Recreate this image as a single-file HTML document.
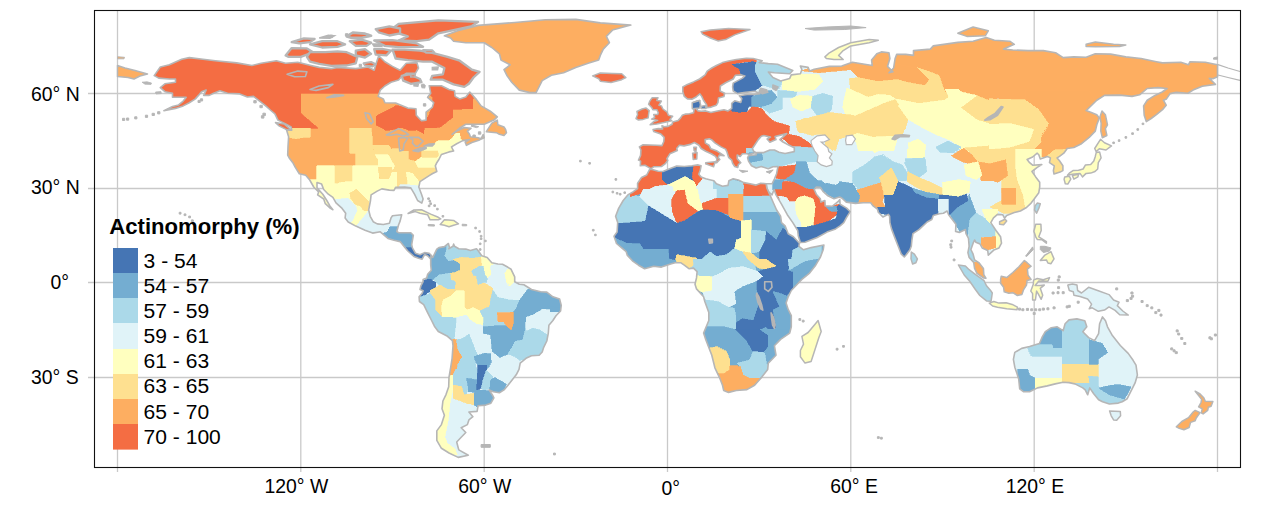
<!DOCTYPE html>
<html><head><meta charset="utf-8"><title>Actinomorphy map</title>
<style>
html,body{margin:0;padding:0;background:#fff;}
body{width:1269px;height:507px;overflow:hidden;font-family:"Liberation Sans",Arial,sans-serif;}
svg{display:block}
text{font-family:"Liberation Sans",Arial,sans-serif;fill:#000}
.ax{font-size:19.4px}
.lg{font-size:19.4px}
.ttl{font-size:22.1px;font-weight:bold}
</style></head><body>
<svg width="1269" height="507" viewBox="0 0 1269 507">
<rect x="0" y="0" width="1269" height="507" fill="#fff"/>

<g stroke="#c9c9c9" stroke-width="1.3" fill="none">
<line x1="117.5" y1="11" x2="117.5" y2="472"/>
<line x1="300.8" y1="11" x2="300.8" y2="472"/>
<line x1="484.2" y1="11" x2="484.2" y2="472"/>
<line x1="667.5" y1="11" x2="667.5" y2="472"/>
<line x1="850.8" y1="11" x2="850.8" y2="472"/>
<line x1="1034.2" y1="11" x2="1034.2" y2="472"/>
<line x1="1217.5" y1="11" x2="1217.5" y2="472"/>
<line x1="88" y1="93.5" x2="1240" y2="93.5"/>
<line x1="88" y1="188.5" x2="1240" y2="188.5"/>
<line x1="88" y1="282.5" x2="1240" y2="282.5"/>
<line x1="88" y1="377.5" x2="1240" y2="377.5"/>
</g>
<defs><clipPath id="c1"><path d="M154.2,75.6 L160.3,67 L169.4,64.8 L181.7,59.2 L189.3,57.6 L203,59.2 L215.3,60.7 L236.7,62.9 L251.9,65.5 L261.1,63.3 L276.4,60.7 L285.6,63.3 L297.8,62.3 L310,65.2 L319.2,67.4 L331.4,68.6 L337.5,67.4 L355.8,68.6 L368.1,67 L374.2,70.2 L375.7,64.8 L378.7,55.7 L384.9,61.7 L392.5,66.4 L400.1,70.2 L406.2,63.3 L416.9,62.6 L418.5,68 L415.4,73.4 L406.2,73.4 L401.7,76.5 L398.6,80 L391,82.2 L384.9,86 L380.3,90.1 L378.1,96.4 L383.3,98.9 L384.9,102.7 L395.6,103 L407.8,108.1 L416,108.7 L416.3,115.3 L421.5,120.7 L426.1,120.1 L426.1,112.2 L432.2,107.4 L433.7,102.7 L427.6,97.3 L430.7,93.2 L429.2,85.7 L441.4,85.7 L449,89.5 L454.5,90.7 L455.1,96.4 L459.7,98.9 L465.8,97 L469.8,92 L476.5,99.6 L481.1,105.9 L490.3,111.2 L497.3,116.9 L493.9,120.1 L484.2,124.2 L465.8,124.2 L459.7,128 L452.1,134.3 L456.7,131.1 L464.3,127.6 L471,128.3 L467.4,131.1 L469.5,134.3 L470.4,136.8 L478.1,137.7 L481.1,138.7 L483.2,134.6 L484.2,137.7 L479.6,139.9 L471.9,142.5 L466.4,145.3 L465.2,142.2 L469.5,139.6 L462.8,140.6 L456.7,143.7 L451.5,146.9 L453,150 L453.6,151 L449,151.9 L441.4,154.5 L438.9,159.5 L436.8,162.7 L435.3,165.8 L436.8,171.5 L432.2,173.7 L429.2,175.6 L420,181.6 L418.8,187 L421.5,194.2 L423.1,199 L421.8,203.1 L417.6,200.5 L414.5,194.2 L410.8,187.9 L404.7,187 L395.6,187.3 L394,190.4 L389.4,190.1 L381.8,188.9 L377.2,191.1 L371.1,194.9 L370.5,200.5 L368.7,210 L370.2,216.3 L373.2,221.7 L377.2,223.9 L383.3,224.5 L389.4,223.3 L391,217.9 L392.5,215.7 L401.7,214.7 L400.1,221.1 L398.6,224.8 L396.8,231.5 L398.6,232.7 L410.8,232.7 L413.3,235.3 L411.7,244.7 L412.4,247.9 L415.4,253.2 L420,254.8 L424.6,252.6 L429.2,253.2 L431.3,255.5 L430.7,258.9 L427.6,255.8 L424.6,254.5 L422.1,259.2 L418.5,258.3 L413.9,256.4 L407.8,251 L405.3,247.9 L400.1,241.6 L394,240.3 L387.9,238.4 L380.3,231.8 L372.6,233.1 L365,230.2 L355.8,226.1 L348.2,222 L345.1,217.9 L345.7,213.2 L342.1,208.4 L336,202.8 L332.9,197.4 L328.3,194.2 L323.7,189.5 L321.6,184.1 L317,182.6 L317,187.9 L322.8,194.2 L326.8,200.5 L329.9,205.9 L332.9,209.7 L330.5,208.4 L325.3,203.7 L323.7,199 L317.6,194.9 L318.6,192 L313.7,187 L309.7,180 L305.7,175.3 L299.3,173.7 L295.3,167.4 L293.2,163.3 L289.2,157.9 L287.7,155.1 L288,146.9 L288.6,136.8 L286.5,129.8 L291.7,130.2 L291.1,127 L285.6,123.9 L277.9,120.1 L274.9,113.8 L270.3,110 L265.7,105.9 L259.6,101.1 L253.5,96.4 L247.4,97 L239.7,93.9 L227.5,93.2 L219.9,90.7 L213.7,93.2 L209.2,95.4 L203.7,95.4 L206.1,90.1 L201.5,91.7 L198.5,95.4 L195.4,98.9 L189.3,102.7 L183.2,105.9 L175.5,108.4 L163.9,110.6 L172.5,106.5 L178.6,104.9 L183.2,101.1 L186.2,97.3 L181.7,97.3 L172.5,97.3 L172.5,93.2 L164.9,91.7 L160.3,87.6 L164.9,83.8 L175.5,82.2 L175.5,79 L169.4,79 L158.7,78.1Z"/></clipPath><clipPath id="c2"><path d="M444.4,35.8 L459.7,30.1 L478.1,25.4 L514.7,22.5 L545.3,19.7 L575.8,19.4 L600.3,22.9 L630.8,25.1 L612.5,30.1 L606.4,36.4 L609.4,42.7 L603.3,49.1 L600.3,55.4 L598.7,60.1 L588.1,63.3 L575.8,67.4 L563.6,72.7 L551.4,75.3 L542.2,80.6 L536.1,92.6 L530,92.6 L519.3,90.1 L511.7,82.2 L507.1,75.9 L504,69.6 L510.1,64.8 L501,60.1 L499.4,53.8 L491.8,47.5 L484.2,42.7 L465.8,42.7 L453.6,41.2 L450.6,38Z"/></clipPath><clipPath id="c3"><path d="M431.3,255.5 L432.8,257.4 L436.8,249.1 L438.9,247.6 L444.4,246.6 L448.4,243.5 L449.6,247.9 L448.7,248.8 L453,246.3 L453.6,244.1 L454.5,246.3 L458.8,248.8 L465.8,249.1 L470.4,250.4 L476.5,248.8 L478.4,251 L481.7,255.8 L487.2,257.4 L491.8,262.7 L497.9,264 L502.5,264.3 L507.1,266.8 L511.1,269.3 L514.7,276.9 L514.7,281.7 L519.3,284.2 L523.9,284.8 L531.5,289.5 L534.6,290.2 L540.7,291.8 L546.8,292.1 L552.9,296.8 L559.6,299 L561.2,305.3 L560.6,311 L556,315.7 L552.9,320.5 L548.9,325.2 L548.3,333.1 L546.8,341 L543.7,347.3 L542.2,352 L539.2,355.2 L531.5,355.8 L526,358.3 L520.2,363.1 L519,369.4 L516.2,374.8 L511.7,380.4 L508,385.2 L504,389.9 L499.4,392.7 L493.3,391.8 L489.1,389.9 L492.4,395 L493.9,397.8 L490.9,403.2 L485.7,405.1 L478.1,405.7 L477.1,411.4 L468.9,412 L472.9,416.7 L468.9,419.9 L467.4,424.6 L461.2,427.8 L465.8,432.5 L461.2,437.2 L456.7,442 L458.2,447.7 L458.8,449.9 L468.3,455.2 L458.2,457.4 L449,453 L441.4,448.3 L436.8,440.4 L436.8,430.9 L441.4,424.6 L444.4,415.2 L442,408.8 L442.9,401 L446,394.6 L448.7,386.7 L449,377.3 L450.6,367.8 L452.1,358.3 L453,345.7 L452.4,340.7 L447.5,336.3 L438.3,331.5 L434.4,326.2 L431.6,320.5 L427.6,312.6 L423.7,304.7 L419.4,301.5 L419.1,296.8 L422.1,293.3 L423.1,290.8 L420,289.5 L420.9,285.8 L423.1,281.7 L423.1,279.4 L426.7,277.9 L427.6,274.4 L431.3,270.3 L430.7,264.9 L430.7,258.9Z"/></clipPath><clipPath id="c4"><path d="M746.3,58.2 L753.1,58.5 L762.2,60.7 L759.2,62.6 L768.3,63.6 L777.5,64.2 L792.8,70.5 L789.7,73.7 L774.4,72.7 L768.3,72.1 L772.9,77.5 L780.6,80.9 L789.7,78.4 L791.3,74.9 L800.4,73.7 L801.9,69.6 L800.4,66.1 L808.1,67.4 L809.6,71.1 L814.2,69.3 L829.4,66.4 L841.7,66.1 L852.4,62.3 L864.6,64.2 L872.2,65.5 L871.6,60.1 L876.8,53.8 L881.4,51.9 L889,52.8 L889.9,58.5 L887.5,66.4 L893,71.8 L889,72.7 L893.6,68 L895.1,58.5 L896.7,54.4 L905.8,54.4 L913.5,55.4 L913.5,50.6 L930.3,49.1 L933.3,45.9 L957.8,42.4 L973.1,41.2 L986.2,37.4 L994.4,40.2 L1009.7,41.2 L1014.3,44.3 L1003.6,49.1 L1012.8,50 L1028.1,50.6 L1043.3,50.6 L1055.6,52.8 L1063.2,57.6 L1073.9,56.9 L1086.1,57.3 L1095.3,53.8 L1110.6,54.1 L1125.8,56.9 L1141.1,58.5 L1156.4,61.7 L1162.5,62.9 L1180.8,62.3 L1188.5,64.8 L1190,61.7 L1205.3,62.3 L1217.5,64.8 L1217.5,76.8 L1212.9,78.7 L1209.3,78.4 L1215.4,84.4 L1202.2,86.3 L1193.1,90.1 L1187.9,93.2 L1176.3,92.3 L1170.1,93.6 L1166.5,98.9 L1163.4,100.2 L1166.2,105.2 L1162.5,109.7 L1156.4,114.7 L1151.2,118.5 L1146.3,121.6 L1144.2,115.3 L1143.6,105.9 L1147.2,100.2 L1154.9,95.4 L1162.2,92 L1167.1,88.5 L1157.9,87.6 L1147.2,88.5 L1139.6,94.8 L1132,96.4 L1119.7,95.1 L1104.5,95.4 L1096.8,100.2 L1086.1,110.6 L1090.7,112.2 L1096.8,114.7 L1099.3,117.9 L1096.8,124.8 L1095.3,131.1 L1089.2,137.4 L1081.5,143.7 L1073.9,147.5 L1067.2,148.5 L1063.8,153.2 L1059.5,156.4 L1057.1,157.9 L1059.5,160.8 L1062.9,165.8 L1062.9,170.6 L1060.1,172.1 L1054,174 L1053.4,170.6 L1054.3,165.8 L1049.5,162.7 L1050.4,157.9 L1047.3,156.4 L1040.3,158.9 L1038.8,154.8 L1037.2,153.2 L1032.6,157 L1027.1,159.5 L1029.6,162.7 L1032.6,165.2 L1041.8,164.6 L1037.2,167.4 L1032,171.5 L1035.7,176.9 L1039.7,182.2 L1039.7,187 L1038.8,192.7 L1034.2,199 L1031.1,203.1 L1026.5,207.5 L1020.4,211 L1014.3,212.5 L1006.7,215.4 L1004.5,218.2 L1002.7,214.7 L997.5,214.4 L993.5,217.9 L990.8,222.6 L996,230.5 L1000.6,236.8 L1001.5,243.2 L999,247.9 L993.8,250.1 L988.3,255.1 L987.7,250.4 L982.2,247.9 L980.1,244.1 L975.8,242.2 L974.6,240 L973.1,243.2 L970.9,249.5 L973.1,254.2 L974.6,259.9 L979.2,263 L983.4,268.4 L983.8,274.7 L985.9,278.2 L983.4,277.9 L977,273.4 L974.6,268.4 L973.7,262.4 L969.1,257.4 L967.9,252.6 L969.1,246.3 L968.5,238.4 L966,233.7 L965.4,229.6 L959.3,232.4 L955.6,231.5 L955.9,224.2 L952.3,219.5 L948.6,214.7 L947.1,211 L943.4,213.2 L939.4,213.8 L933.3,215.4 L931.8,219.5 L927.2,222 L919,229.6 L912.9,233.7 L911.9,240 L911.3,246.3 L909.8,250.1 L906.4,254.5 L904.3,257 L901.3,254.2 L898.2,246.3 L895.1,238.4 L891.5,228.9 L889.9,222.6 L889.6,216.3 L888.4,214.4 L882.9,217 L878.3,212.2 L877.4,209.1 L873.1,205.9 L870.7,202.8 L863.1,202.8 L855.4,203.4 L846.3,202.1 L841.7,198 L839.5,197.1 L834,198.7 L827.9,195.8 L823.3,191.7 L820.3,187.3 L816.3,187 L814.2,189.5 L816.3,194.2 L820.3,198.7 L820.9,202.1 L824.9,200.5 L825.2,205.9 L832.5,206.2 L838.6,201.2 L839.8,199.6 L840.1,204.3 L846.6,208.1 L850.2,211.6 L846.3,217.9 L843.8,222.6 L840.1,225.8 L835.6,228.9 L827,232.1 L817.2,237.5 L805,242.2 L800.4,242.5 L798.3,235.9 L797.7,230.5 L792.8,222.6 L787.3,214.7 L781.2,203.7 L776,194.9 L774.1,189.5 L772,194.9 L768.3,191.7 L766.8,187.9 L766.2,183.8 L772,183.8 L774.4,179.1 L776.6,173.7 L777.5,169 L778.1,166.5 L772.9,166.8 L768.3,168.7 L761.3,166.5 L756.1,168 L751.5,165.8 L748.5,161.1 L747.6,157.9 L748.5,155.7 L756.1,154.8 L756.7,152.6 L763.8,152.6 L769.9,150 L774.4,150 L779,152.3 L785.1,153.5 L794.3,151.6 L794.3,147.8 L788.2,144.7 L782.1,141.5 L779.9,139.6 L786.7,133.6 L775.1,136.5 L776,139.6 L769.9,142.2 L767.1,139 L770.5,137.1 L763.8,135.5 L761.3,136.2 L758.3,139.6 L754.9,144.7 L752.4,148.5 L753.7,151.3 L756.1,152.6 L753.1,153.2 L749.4,154.5 L746.9,153.8 L742.4,153.8 L740.2,156.4 L737.2,155.1 L737.2,158.6 L740.8,162.7 L738.4,164.6 L737.8,167.4 L734.7,166.5 L732.6,163.3 L731.7,160.1 L728.6,157.3 L726.8,151.6 L725.6,149.1 L721,146.9 L714.9,142.8 L711.8,139.9 L709.4,138.7 L705.1,139.6 L705.4,143.1 L709.1,145.3 L710.9,148.8 L716.4,150.7 L724,155.7 L719.4,155.1 L718.2,157.6 L719.8,159.5 L716.7,162.7 L715.5,162.7 L717,159.2 L715.5,156.4 L711.2,153.8 L705.7,151.3 L701.1,148.5 L699,145.3 L694.4,142.5 L690.4,144.4 L684,145.9 L679.4,145.3 L676.7,148.5 L677.3,150.4 L669.9,153.8 L666.9,158.6 L667.8,160.5 L665.4,163.6 L661.4,166.5 L653.7,166.8 L651,168.7 L648.2,167.1 L644.9,165.2 L640.3,165.8 L640.6,161.1 L638.5,160.1 L640.6,155.4 L640.9,150 L639.4,146.9 L643.1,144.7 L649.8,145 L656.8,145.3 L662,145.6 L663.8,141.5 L664.1,137.4 L660.8,134 L653.7,131.4 L653.1,129.5 L658.3,128.6 L662.6,128.9 L662,125.7 L664.4,126.7 L668.1,126.4 L672.1,124.2 L672.7,122 L678.2,120.4 L680.6,117.9 L682.2,115.3 L685.8,114.1 L689.5,113.8 L693.5,112.8 L694.1,109.7 L692.6,107.4 L692.6,102.7 L697.4,100.8 L699.9,100.5 L699,104.3 L700.5,104.9 L698.1,108.4 L696.5,109.3 L698.1,110.9 L701.1,111.2 L705.7,110.9 L710.9,112.5 L716.4,111.2 L724,109.7 L728,110.9 L731.7,108.4 L731.7,103.3 L734.7,100.8 L740.8,102.4 L741.8,98.6 L739.3,95.8 L746.9,94.5 L753.1,94.5 L759.8,93.6 L754.6,91.3 L743.9,92.6 L737.5,93.6 L733.2,91 L732.6,86.9 L733.2,83.1 L742.4,78.1 L744.8,75.9 L741.4,74.9 L735.3,75.3 L733.2,79 L725.6,82.8 L720.4,86 L720.1,91 L724.6,93.2 L724,96.4 L718.5,98 L717.9,102.7 L716.4,105.2 L711.2,107.1 L706.9,107.8 L706.6,104.9 L703.6,100.5 L701.7,96.4 L699.9,93.9 L696.5,96.7 L691.9,99.2 L687.4,98.9 L684.3,96.4 L682.8,91.7 L682.8,86.9 L687.4,84.4 L693.5,81.9 L699.6,79 L705.1,74.9 L707.2,71.1 L711.8,68 L716.4,65.5 L722.5,62.6 L728.6,61 L736.3,59.5Z"/></clipPath><clipPath id="c5"><path d="M766.8,187.9 L769.9,194.9 L773.8,203.7 L776.6,210 L780.6,216.3 L781.5,222.6 L785.1,225.8 L788.2,233.7 L793.4,236.8 L799.5,243.2 L798.9,246.3 L803.5,249.8 L811.1,247.6 L823.9,245 L823.3,249.5 L820.3,257.4 L815.7,265.2 L809.6,273.1 L801.9,279.4 L795.8,285.8 L791.3,290.5 L788.2,296.8 L786.1,303.1 L788.2,309.4 L791.3,315.7 L791.3,326.8 L789.7,333.1 L780.6,339.4 L774.4,345.7 L776,355.2 L768.3,363.1 L767.7,369.4 L762.2,376.6 L754.6,385.2 L746.9,389.6 L736.3,390.5 L728.6,392.4 L723.7,390.5 L722.5,385.2 L719.4,377.3 L714.9,367.8 L711.8,355.2 L705.7,339.4 L703.6,333.1 L708.8,320.5 L708.8,312.6 L704.8,301.5 L703.6,296.8 L696.5,288.9 L695,284.2 L696.5,277.9 L697.1,271.6 L693.5,268.1 L688.9,268.7 L684.3,265.2 L680.6,262.7 L675.1,262.7 L670.6,264 L661.4,267.1 L653.7,266.2 L644.6,268.7 L638.5,265.2 L632.4,260.8 L627.2,255.1 L626.2,251.7 L621.7,247.9 L616.5,243.5 L614,236.2 L617.1,232.1 L617.7,222.6 L615.6,216.3 L618.6,208.4 L623.2,200.5 L627.8,194.9 L633.3,191.7 L637.6,188.6 L637.6,183.2 L641.5,177.5 L646.7,175 L649.5,169.6 L651.3,169.3 L658.3,171.2 L662.9,171.5 L669,169 L676.7,166.1 L684.3,166.5 L691.9,165.8 L698.1,164.9 L701.1,165.8 L700.2,170.6 L698.7,174.3 L701.1,176.9 L705.7,178.8 L713.9,180.7 L716.4,183.8 L722.5,186.3 L728,185.4 L728.9,180.7 L733.2,178.8 L738.4,180 L743.9,182.6 L750,183.8 L756.1,185.1 L760.7,183.2 L766.2,183.8Z"/></clipPath><clipPath id="c6"><path d="M1014.8,352.4 L1021.7,348.4 L1029.6,346.5 L1039.4,343.5 L1042.4,336.6 L1045.3,331.7 L1051.3,327.7 L1057.2,326.8 L1063.1,330.7 L1065.1,323.8 L1069,319.9 L1076.9,318.9 L1084.8,320.8 L1086.8,326.8 L1082.8,331.7 L1088.7,337.6 L1094.6,340.6 L1098.6,333.7 L1099.6,323.8 L1102.5,316.9 L1105.5,320.8 L1107.5,326.8 L1112.4,335.6 L1120.3,345.5 L1128.2,353.4 L1133.1,360.3 L1136,365.2 L1137.4,375.1 L1135.1,382.9 L1131.1,390.8 L1127.2,398.7 L1122.2,401.7 L1118.3,403.1 L1109.4,404 L1102.5,401.7 L1098.6,399.7 L1093.7,393.8 L1089.7,387.9 L1087.7,394.8 L1085.2,389.9 L1082.8,387.9 L1074.9,383.9 L1069,382.6 L1063.1,382.2 L1055.2,383.9 L1047.3,385.9 L1037.5,387.9 L1029.6,391.8 L1023.7,391.8 L1019.7,388.9 L1018.7,379 L1016.8,373.1 L1014.8,367.2 L1013.4,359.3Z"/></clipPath></defs>
<g clip-path="url(#c1)" shape-rendering="crispEdges">
<path d="M154.2,75.6 L160.3,67 L169.4,64.8 L181.7,59.2 L189.3,57.6 L203,59.2 L215.3,60.7 L236.7,62.9 L251.9,65.5 L261.1,63.3 L276.4,60.7 L285.6,63.3 L297.8,62.3 L310,65.2 L319.2,67.4 L331.4,68.6 L337.5,67.4 L355.8,68.6 L368.1,67 L374.2,70.2 L375.7,64.8 L378.7,55.7 L384.9,61.7 L392.5,66.4 L400.1,70.2 L406.2,63.3 L416.9,62.6 L418.5,68 L415.4,73.4 L406.2,73.4 L401.7,76.5 L398.6,80 L391,82.2 L384.9,86 L380.3,90.1 L378.1,96.4 L383.3,98.9 L384.9,102.7 L395.6,103 L407.8,108.1 L416,108.7 L416.3,115.3 L421.5,120.7 L426.1,120.1 L426.1,112.2 L432.2,107.4 L433.7,102.7 L427.6,97.3 L430.7,93.2 L429.2,85.7 L441.4,85.7 L449,89.5 L454.5,90.7 L455.1,96.4 L459.7,98.9 L465.8,97 L469.8,92 L476.5,99.6 L481.1,105.9 L490.3,111.2 L497.3,116.9 L493.9,120.1 L484.2,124.2 L465.8,124.2 L459.7,128 L452.1,134.3 L456.7,131.1 L464.3,127.6 L471,128.3 L467.4,131.1 L469.5,134.3 L470.4,136.8 L478.1,137.7 L481.1,138.7 L483.2,134.6 L484.2,137.7 L479.6,139.9 L471.9,142.5 L466.4,145.3 L465.2,142.2 L469.5,139.6 L462.8,140.6 L456.7,143.7 L451.5,146.9 L453,150 L453.6,151 L449,151.9 L441.4,154.5 L438.9,159.5 L436.8,162.7 L435.3,165.8 L436.8,171.5 L432.2,173.7 L429.2,175.6 L420,181.6 L418.8,187 L421.5,194.2 L423.1,199 L421.8,203.1 L417.6,200.5 L414.5,194.2 L410.8,187.9 L404.7,187 L395.6,187.3 L394,190.4 L389.4,190.1 L381.8,188.9 L377.2,191.1 L371.1,194.9 L370.5,200.5 L368.7,210 L370.2,216.3 L373.2,221.7 L377.2,223.9 L383.3,224.5 L389.4,223.3 L391,217.9 L392.5,215.7 L401.7,214.7 L400.1,221.1 L398.6,224.8 L396.8,231.5 L398.6,232.7 L410.8,232.7 L413.3,235.3 L411.7,244.7 L412.4,247.9 L415.4,253.2 L420,254.8 L424.6,252.6 L429.2,253.2 L431.3,255.5 L430.7,258.9 L427.6,255.8 L424.6,254.5 L422.1,259.2 L418.5,258.3 L413.9,256.4 L407.8,251 L405.3,247.9 L400.1,241.6 L394,240.3 L387.9,238.4 L380.3,231.8 L372.6,233.1 L365,230.2 L355.8,226.1 L348.2,222 L345.1,217.9 L345.7,213.2 L342.1,208.4 L336,202.8 L332.9,197.4 L328.3,194.2 L323.7,189.5 L321.6,184.1 L317,182.6 L317,187.9 L322.8,194.2 L326.8,200.5 L329.9,205.9 L332.9,209.7 L330.5,208.4 L325.3,203.7 L323.7,199 L317.6,194.9 L318.6,192 L313.7,187 L309.7,180 L305.7,175.3 L299.3,173.7 L295.3,167.4 L293.2,163.3 L289.2,157.9 L287.7,155.1 L288,146.9 L288.6,136.8 L286.5,129.8 L291.7,130.2 L291.1,127 L285.6,123.9 L277.9,120.1 L274.9,113.8 L270.3,110 L265.7,105.9 L259.6,101.1 L253.5,96.4 L247.4,97 L239.7,93.9 L227.5,93.2 L219.9,90.7 L213.7,93.2 L209.2,95.4 L203.7,95.4 L206.1,90.1 L201.5,91.7 L198.5,95.4 L195.4,98.9 L189.3,102.7 L183.2,105.9 L175.5,108.4 L163.9,110.6 L172.5,106.5 L178.6,104.9 L183.2,101.1 L186.2,97.3 L181.7,97.3 L172.5,97.3 L172.5,93.2 L164.9,91.7 L160.3,87.6 L164.9,83.8 L175.5,82.2 L175.5,79 L169.4,79 L158.7,78.1Z" fill="#fdae61"/>
<path d="M132.8,93.2 L132.8,42.7 L484.2,42.7 L484.2,93.2Z" fill="#f46d43" stroke="#f46d43" stroke-width="0.7"/>
<path d="M132.8,90.1 L238.2,90.1 L238.2,94.8 L255,94.2 L270.3,109 L276.4,124.8 L132.8,124.8Z" fill="#f46d43" stroke="#f46d43" stroke-width="0.7"/>
<path d="M236.7,93.2 L300.8,93.2 L300.8,113.4 L317.9,128 L255,129.5 L236.7,105.9Z" fill="#f46d43" stroke="#f46d43" stroke-width="0.7"/>
<path d="M376.2,116.2 L396.2,105.6 L407.4,107.5 L414.8,108.7 L417.3,116.2 L423.5,121.8 L428.5,116.2 L432.3,106.2 L432.9,97.5 L428.5,92.5 L429.8,86.3 L473.4,86.3 L472.7,108.7 L452.8,109.3 L452.8,117.4 L444.7,123.7 L439.7,127.4 L424.2,128 L423.5,133.6 L417.3,129.9 L409.9,130.5 L401.1,127.4 L394.9,129.3 L386.2,130.5 L376.2,124.9Z" fill="#f46d43" stroke="#f46d43" stroke-width="0.7"/>
<path d="M285.6,128 L310,128 L310,137.4 L303.9,137.4 L296.2,138.7 L285.6,136.8Z" fill="#fee090" stroke="#fee090" stroke-width="0.7"/>
<path d="M349.7,128 L371.1,128 L372.3,139 L372.6,148.5 L376.3,156.4 L378.4,159.5 L378.4,165.8 L355.8,165.8 L355.8,153.2 L349.7,153.2Z" fill="#fee090" stroke="#fee090" stroke-width="0.7"/>
<path d="M372.6,145.3 L388.8,145.3 L391.9,150 L389.4,155.1 L375.1,154.8Z" fill="#fee090" stroke="#fee090" stroke-width="0.7"/>
<path d="M388.2,155.1 L391.9,148.5 L400.1,148.5 L400.7,151 L408.4,151 L408.4,159.5 L404.7,162.7 L398.6,165.2 L394.6,165.8 L391.6,161.1Z" fill="#fee090" stroke="#fee090" stroke-width="0.7"/>
<path d="M394,165.8 L398.6,165.2 L404.7,162.7 L408.4,159.5 L415.4,161.4 L417.9,167.1 L410.8,172.1 L391.6,172.1Z" fill="#fee090" stroke="#fee090" stroke-width="0.7"/>
<path d="M334.4,165.8 L352.8,165.8 L352.8,181.6 L342.1,182.2 L334.4,183.8Z" fill="#fee090" stroke="#fee090" stroke-width="0.7"/>
<path d="M316.7,165.8 L334.4,165.8 L334.4,183.8 L328.3,183.8 L316.7,180Z" fill="#ffffbf" stroke="#ffffbf" stroke-width="0.7"/>
<path d="M352.8,165.8 L378.4,165.8 L378.7,178.5 L388.8,178.5 L391.6,172.1 L398,172.1 L397.4,187.9 L394,192.7 L380.3,191.1 L369.6,201.2 L363.5,195.8 L357.4,188.6 L352.8,191.1 L348.2,188.9 L342.1,182.2 L352.8,181.6Z" fill="#ffffbf" stroke="#ffffbf" stroke-width="0.7"/>
<path d="M375.1,154.8 L388.2,154.8 L391.6,161.1 L394.6,165.8 L393.4,169 L391.6,169 L391.6,167.4 L378.4,167.4 L378.4,159.5Z" fill="#ffffbf" stroke="#ffffbf" stroke-width="0.7"/>
<path d="M378.4,167.4 L391.6,167.4 L391.6,172.1 L388.8,178.5 L379.7,178.5Z" fill="#fee090" stroke="#fee090" stroke-width="0.7"/>
<path d="M397.4,172.1 L406.2,172.1 L407.8,181.6 L407.8,184.8 L400.1,184.8 L399.8,187.3 L397.4,187.3Z" fill="#fee090" stroke="#fee090" stroke-width="0.7"/>
<path d="M406.2,172.1 L413,172.5 L420,181.6 L418.8,186 L407.8,185.1 L407.8,181.6Z" fill="#ffffbf" stroke="#ffffbf" stroke-width="0.7"/>
<path d="M409.9,172.1 L417.9,167.1 L436.8,167.4 L437.4,172.1 L427.6,176.6 L420,181.9 L413,173.1Z" fill="#fee090" stroke="#fee090" stroke-width="0.7"/>
<path d="M415.4,161.4 L421.5,157.3 L435.9,157.3 L438.3,156.4 L438.3,152.3 L442.6,153.2 L442.6,157.9 L438,164.2 L436.5,167.4 L417.9,167.1Z" fill="#ffffbf" stroke="#ffffbf" stroke-width="0.7"/>
<path d="M421.5,149.4 L423.7,150 L438.3,150 L438.3,156.4 L435.9,157.3 L421.5,157.3Z" fill="#fee090" stroke="#fee090" stroke-width="0.7"/>
<path d="M423.7,150 L426.1,145.9 L433.7,145.3 L435.3,142.8 L438.3,140.6 L449,140.6 L452.1,138.1 L456.1,133 L459.7,133.3 L460.3,138.4 L463.4,141.5 L454.2,145.9 L454.8,152.3 L442.6,155.1 L438.3,152.3 L438.3,150Z" fill="#ffffbf" stroke="#ffffbf" stroke-width="0.7"/>
<path d="M399.8,184.8 L407.8,184.8 L418.8,185.7 L424.6,186.3 L424.6,205.3 L413.9,205.3 L407.8,189.5 L399.8,187.3Z" fill="#e0f3f8" stroke="#e0f3f8" stroke-width="0.7"/>
<path d="M309.1,179.7 L316.7,180 L328.3,183.8 L336.9,183.8 L342.1,182.2 L348.2,188.9 L352.8,191.1 L357.4,188.6 L363.5,195.8 L369.6,201.2 L374.2,203.7 L374.2,225.8 L365,235.3 L331.4,219.5 L306.9,194.2Z" fill="#ffffbf" stroke="#ffffbf" stroke-width="0.7"/>
<path d="M349.9,193.3 L356.5,189.1 L361.5,194.1 L369,201.6 L368.2,210.7 L363.2,210.7 L361.5,206.6 L354.9,204.1 L350.7,198.3Z" fill="#fee090" stroke="#fee090" stroke-width="0.7"/>
<path d="M331.6,199.9 L348.2,198.3 L354.9,204.9 L357.4,210.7 L353.2,219.9 L348.2,224.9 L339.9,219.9 L334.1,208.3Z" fill="#e0f3f8" stroke="#e0f3f8" stroke-width="0.7"/>
<path d="M357.4,210.7 L368.2,211.2 L364.8,215.7 L358.2,224.1 L353.2,220.7Z" fill="#ffffbf" stroke="#ffffbf" stroke-width="0.7"/>
<path d="M356.5,225.7 L364.8,215.7 L368.2,211.2 L369.8,218.2 L378.2,224.9 L389.8,221.6 L390.6,213.2 L403.9,212.4 L403.9,219.9 L398.9,226.5 L389.8,226.5 L386.5,232.4 L379.8,234.9 L369.8,233.2 L363.2,229.9Z" fill="#e0f3f8" stroke="#e0f3f8" stroke-width="0.7"/>
<path d="M383.1,233.2 L386.5,232.4 L389.8,226.5 L398.9,226.5 L400.6,232.4 L414.7,232.4 L416.4,241.5 L414.7,248.2 L406.4,248.2 L398.1,243.2 L389.8,239.8Z" fill="#74add1" stroke="#74add1" stroke-width="0.7"/>
<path d="M403.1,248.2 L414.7,247.3 L417.2,252.3 L431.4,252.3 L434.7,261.5 L416.4,261.5 L408.1,254.8Z" fill="#4575b4" stroke="#4575b4" stroke-width="0.7"/>
</g>
<path d="M154.2,75.6 L160.3,67 L169.4,64.8 L181.7,59.2 L189.3,57.6 L203,59.2 L215.3,60.7 L236.7,62.9 L251.9,65.5 L261.1,63.3 L276.4,60.7 L285.6,63.3 L297.8,62.3 L310,65.2 L319.2,67.4 L331.4,68.6 L337.5,67.4 L355.8,68.6 L368.1,67 L374.2,70.2 L375.7,64.8 L378.7,55.7 L384.9,61.7 L392.5,66.4 L400.1,70.2 L406.2,63.3 L416.9,62.6 L418.5,68 L415.4,73.4 L406.2,73.4 L401.7,76.5 L398.6,80 L391,82.2 L384.9,86 L380.3,90.1 L378.1,96.4 L383.3,98.9 L384.9,102.7 L395.6,103 L407.8,108.1 L416,108.7 L416.3,115.3 L421.5,120.7 L426.1,120.1 L426.1,112.2 L432.2,107.4 L433.7,102.7 L427.6,97.3 L430.7,93.2 L429.2,85.7 L441.4,85.7 L449,89.5 L454.5,90.7 L455.1,96.4 L459.7,98.9 L465.8,97 L469.8,92 L476.5,99.6 L481.1,105.9 L490.3,111.2 L497.3,116.9 L493.9,120.1 L484.2,124.2 L465.8,124.2 L459.7,128 L452.1,134.3 L456.7,131.1 L464.3,127.6 L471,128.3 L467.4,131.1 L469.5,134.3 L470.4,136.8 L478.1,137.7 L481.1,138.7 L483.2,134.6 L484.2,137.7 L479.6,139.9 L471.9,142.5 L466.4,145.3 L465.2,142.2 L469.5,139.6 L462.8,140.6 L456.7,143.7 L451.5,146.9 L453,150 L453.6,151 L449,151.9 L441.4,154.5 L438.9,159.5 L436.8,162.7 L435.3,165.8 L436.8,171.5 L432.2,173.7 L429.2,175.6 L420,181.6 L418.8,187 L421.5,194.2 L423.1,199 L421.8,203.1 L417.6,200.5 L414.5,194.2 L410.8,187.9 L404.7,187 L395.6,187.3 L394,190.4 L389.4,190.1 L381.8,188.9 L377.2,191.1 L371.1,194.9 L370.5,200.5 L368.7,210 L370.2,216.3 L373.2,221.7 L377.2,223.9 L383.3,224.5 L389.4,223.3 L391,217.9 L392.5,215.7 L401.7,214.7 L400.1,221.1 L398.6,224.8 L396.8,231.5 L398.6,232.7 L410.8,232.7 L413.3,235.3 L411.7,244.7 L412.4,247.9 L415.4,253.2 L420,254.8 L424.6,252.6 L429.2,253.2 L431.3,255.5 L430.7,258.9 L427.6,255.8 L424.6,254.5 L422.1,259.2 L418.5,258.3 L413.9,256.4 L407.8,251 L405.3,247.9 L400.1,241.6 L394,240.3 L387.9,238.4 L380.3,231.8 L372.6,233.1 L365,230.2 L355.8,226.1 L348.2,222 L345.1,217.9 L345.7,213.2 L342.1,208.4 L336,202.8 L332.9,197.4 L328.3,194.2 L323.7,189.5 L321.6,184.1 L317,182.6 L317,187.9 L322.8,194.2 L326.8,200.5 L329.9,205.9 L332.9,209.7 L330.5,208.4 L325.3,203.7 L323.7,199 L317.6,194.9 L318.6,192 L313.7,187 L309.7,180 L305.7,175.3 L299.3,173.7 L295.3,167.4 L293.2,163.3 L289.2,157.9 L287.7,155.1 L288,146.9 L288.6,136.8 L286.5,129.8 L291.7,130.2 L291.1,127 L285.6,123.9 L277.9,120.1 L274.9,113.8 L270.3,110 L265.7,105.9 L259.6,101.1 L253.5,96.4 L247.4,97 L239.7,93.9 L227.5,93.2 L219.9,90.7 L213.7,93.2 L209.2,95.4 L203.7,95.4 L206.1,90.1 L201.5,91.7 L198.5,95.4 L195.4,98.9 L189.3,102.7 L183.2,105.9 L175.5,108.4 L163.9,110.6 L172.5,106.5 L178.6,104.9 L183.2,101.1 L186.2,97.3 L181.7,97.3 L172.5,97.3 L172.5,93.2 L164.9,91.7 L160.3,87.6 L164.9,83.8 L175.5,82.2 L175.5,79 L169.4,79 L158.7,78.1Z" fill="none" stroke="#b6b6b6" stroke-width="1.6" stroke-linejoin="round"/>
<g clip-path="url(#c2)" shape-rendering="crispEdges">
<path d="M444.4,35.8 L459.7,30.1 L478.1,25.4 L514.7,22.5 L545.3,19.7 L575.8,19.4 L600.3,22.9 L630.8,25.1 L612.5,30.1 L606.4,36.4 L609.4,42.7 L603.3,49.1 L600.3,55.4 L598.7,60.1 L588.1,63.3 L575.8,67.4 L563.6,72.7 L551.4,75.3 L542.2,80.6 L536.1,92.6 L530,92.6 L519.3,90.1 L511.7,82.2 L507.1,75.9 L504,69.6 L510.1,64.8 L501,60.1 L499.4,53.8 L491.8,47.5 L484.2,42.7 L465.8,42.7 L453.6,41.2 L450.6,38Z" fill="#fdae61"/>
</g>
<path d="M444.4,35.8 L459.7,30.1 L478.1,25.4 L514.7,22.5 L545.3,19.7 L575.8,19.4 L600.3,22.9 L630.8,25.1 L612.5,30.1 L606.4,36.4 L609.4,42.7 L603.3,49.1 L600.3,55.4 L598.7,60.1 L588.1,63.3 L575.8,67.4 L563.6,72.7 L551.4,75.3 L542.2,80.6 L536.1,92.6 L530,92.6 L519.3,90.1 L511.7,82.2 L507.1,75.9 L504,69.6 L510.1,64.8 L501,60.1 L499.4,53.8 L491.8,47.5 L484.2,42.7 L465.8,42.7 L453.6,41.2 L450.6,38Z" fill="none" stroke="#b6b6b6" stroke-width="1.6" stroke-linejoin="round"/>
<g clip-path="url(#c3)" shape-rendering="crispEdges">
<path d="M431.3,255.5 L432.8,257.4 L436.8,249.1 L438.9,247.6 L444.4,246.6 L448.4,243.5 L449.6,247.9 L448.7,248.8 L453,246.3 L453.6,244.1 L454.5,246.3 L458.8,248.8 L465.8,249.1 L470.4,250.4 L476.5,248.8 L478.4,251 L481.7,255.8 L487.2,257.4 L491.8,262.7 L497.9,264 L502.5,264.3 L507.1,266.8 L511.1,269.3 L514.7,276.9 L514.7,281.7 L519.3,284.2 L523.9,284.8 L531.5,289.5 L534.6,290.2 L540.7,291.8 L546.8,292.1 L552.9,296.8 L559.6,299 L561.2,305.3 L560.6,311 L556,315.7 L552.9,320.5 L548.9,325.2 L548.3,333.1 L546.8,341 L543.7,347.3 L542.2,352 L539.2,355.2 L531.5,355.8 L526,358.3 L520.2,363.1 L519,369.4 L516.2,374.8 L511.7,380.4 L508,385.2 L504,389.9 L499.4,392.7 L493.3,391.8 L489.1,389.9 L492.4,395 L493.9,397.8 L490.9,403.2 L485.7,405.1 L478.1,405.7 L477.1,411.4 L468.9,412 L472.9,416.7 L468.9,419.9 L467.4,424.6 L461.2,427.8 L465.8,432.5 L461.2,437.2 L456.7,442 L458.2,447.7 L458.8,449.9 L468.3,455.2 L458.2,457.4 L449,453 L441.4,448.3 L436.8,440.4 L436.8,430.9 L441.4,424.6 L444.4,415.2 L442,408.8 L442.9,401 L446,394.6 L448.7,386.7 L449,377.3 L450.6,367.8 L452.1,358.3 L453,345.7 L452.4,340.7 L447.5,336.3 L438.3,331.5 L434.4,326.2 L431.6,320.5 L427.6,312.6 L423.7,304.7 L419.4,301.5 L419.1,296.8 L422.1,293.3 L423.1,290.8 L420,289.5 L420.9,285.8 L423.1,281.7 L423.1,279.4 L426.7,277.9 L427.6,274.4 L431.3,270.3 L430.7,264.9 L430.7,258.9Z" fill="#e0f3f8"/>
<path d="M423.3,276.5 L428.3,254.9 L437.4,244.1 L448.2,240 L446.6,249.9 L444.9,255.8 L448.6,260.7 L454.9,260.4 L460.2,263.6 L460.2,270.2 L454.9,272.7 L449.9,273.2 L443.6,274.2 L439.1,274.9 L434.1,279 L429.9,280.7Z" fill="#74add1" stroke="#74add1" stroke-width="0.7"/>
<path d="M447.4,240 L466.5,243.3 L484.8,244.1 L484,256.9 L471.5,258.3 L461.5,257.4 L453.2,259.4 L448.6,260.7 L444.9,255.8 L446.6,249.9Z" fill="#abd9e9" stroke="#abd9e9" stroke-width="0.7"/>
<path d="M453.2,259.4 L461.5,257.4 L471.5,258.3 L481.5,257.1 L482.3,264.9 L478.2,266.6 L471.5,270.7 L473.2,274.9 L477.3,276.5 L478.2,284 L483.1,282.4 L493.1,288.2 L494.8,294.8 L491.5,298.2 L490.6,309.8 L454.9,309.8 L454.9,291.5 L448.2,289.8 L449.9,273.2 L454.9,272.7 L460.2,270.2 L460.2,263.6 L454.9,260.4Z" fill="#fee090" stroke="#fee090" stroke-width="0.7"/>
<path d="M481.1,255.8 L488.1,255.8 L493.9,264.1 L490.6,266.6 L491.5,274.9 L487.3,278.2 L484,274.9 L482.3,265.7Z" fill="#ffffbf" stroke="#ffffbf" stroke-width="0.7"/>
<path d="M490.6,265.7 L499.8,262.9 L508.1,269.1 L504.8,274.9 L508.1,283.2 L513.1,285.7 L516.4,284 L528,289 L523,294.8 L517.2,303.2 L508.1,299 L496.4,296.5 L493.1,288.2 L486.5,282.4 L487.3,278.2 L491.5,274.9Z" fill="#e0f3f8" stroke="#e0f3f8" stroke-width="0.7"/>
<path d="M504.8,273.2 L508.1,268.6 L516.4,274.9 L514.7,280.7 L509.7,286.2 L506.4,281.5Z" fill="#ffffbf" stroke="#ffffbf" stroke-width="0.7"/>
<path d="M471.5,270.7 L478.2,266.6 L483.1,266.2 L484.8,274.9 L487.3,278.2 L486.5,282.4 L483.1,282.4 L478.2,284.5 L476.8,276.5 L473.2,274.9Z" fill="#abd9e9" stroke="#abd9e9" stroke-width="0.7"/>
<path d="M517.2,303.2 L523,294.8 L528,289 L533,289.8 L546.3,290.7 L559.6,297.3 L564.6,304.8 L564.6,311.5 L516.4,311.5Z" fill="#74add1" stroke="#74add1" stroke-width="0.7"/>
<path d="M434.1,279 L439.1,274.9 L443.6,274.2 L449.9,273.2 L450.7,279.9 L455.2,281.5 L454.5,291.2 L448.2,289.8 L439.9,284.9 L435.7,282.4Z" fill="#abd9e9" stroke="#abd9e9" stroke-width="0.7"/>
<path d="M416.6,289 L421.6,280.7 L429.9,279 L435.7,282.4 L435.7,287.9 L431.6,290.7 L426.9,293.2 L425.3,297.7 L419.1,297.7Z" fill="#4575b4" stroke="#4575b4" stroke-width="0.7"/>
<path d="M416.6,298.2 L425.3,297.7 L431.6,290.7 L433.3,299.8 L435.7,309.8 L420,309.8Z" fill="#abd9e9" stroke="#abd9e9" stroke-width="0.7"/>
<path d="M429.9,290.7 L435.7,287.9 L439.9,284.9 L448.2,289.8 L454.9,291.5 L451.5,298.2 L443.2,301.5 L441.6,309.8 L435.7,309.8 L433.3,299.8Z" fill="#fee090" stroke="#fee090" stroke-width="0.7"/>
<path d="M441.6,309.8 L443.2,301.5 L451.5,298.2 L454.9,291.5 L464,291.5 L464,309.8Z" fill="#ffffbf" stroke="#ffffbf" stroke-width="0.7"/>
<path d="M490.6,309.8 L491.5,298.2 L496.4,296.5 L508.1,299 L517.2,303.2 L516.4,309.8Z" fill="#abd9e9" stroke="#abd9e9" stroke-width="0.7"/>
<path d="M415,296.7 L421.6,296.7 L430.8,293.3 L435.7,300 L435.7,310 L441.6,316.6 L449.9,316.6 L456.5,317.4 L456.5,323.3 L454.9,339.1 L448.2,339.9 L433.3,328.2 L423.3,310Z" fill="#abd9e9" stroke="#abd9e9" stroke-width="0.7"/>
<path d="M430.8,293.3 L435.7,289.2 L454.9,289.2 L449.9,296.7 L443.2,300 L441.6,306.6 L442.4,316.6 L435.7,310 L435.7,300Z" fill="#fee090" stroke="#fee090" stroke-width="0.7"/>
<path d="M454.9,289.2 L493.1,289.2 L490.6,300 L489.8,306.6 L479.8,310.8 L473.2,307.5 L467.3,310 L464,306.6 L464,291.7Z" fill="#fee090" stroke="#fee090" stroke-width="0.7"/>
<path d="M441.6,306.6 L443.2,300 L449.9,296.7 L456.5,290.8 L464,290.8 L464,306.6 L467.3,310 L466.5,314.9 L456.5,317.4 L449.9,316.6 L442.4,316.6Z" fill="#ffffbf" stroke="#ffffbf" stroke-width="0.7"/>
<path d="M467.3,310 L473.2,307.5 L479.8,310.8 L484,318.3 L483.1,325.3 L476.5,324.1 L469.8,319.9 L466.5,314.9Z" fill="#ffffbf" stroke="#ffffbf" stroke-width="0.7"/>
<path d="M456.5,317.4 L466.5,314.9 L469.8,319.9 L476.5,324.1 L483.1,325.7 L483.1,333.2 L490.6,334.9 L491.5,346.5 L490.6,354 L484.8,353.2 L478.2,355.2 L474,346.5 L469,334.1 L463.2,338.2 L456.5,339.9 L454.9,338.2 L456.5,323.3Z" fill="#e0f3f8" stroke="#e0f3f8" stroke-width="0.7"/>
<path d="M493.1,289.2 L498.1,296.7 L508.1,299.1 L519.7,300 L516.4,308.3 L513.1,312.4 L497.3,312.4 L497.3,321.6 L503.9,321.6 L507.2,326.2 L498.1,326.2 L483.1,326.9 L484,318.3 L479.8,310.8 L489.8,306.6 L490.6,300Z" fill="#abd9e9" stroke="#abd9e9" stroke-width="0.7"/>
<path d="M493.1,289.2 L528,289.2 L519.7,300 L508.1,299.1 L498.1,296.7Z" fill="#e0f3f8" stroke="#e0f3f8" stroke-width="0.7"/>
<path d="M519.7,300 L528,289.2 L564.6,289.2 L564.6,308.3 L556.3,307.5 L549.7,305.8 L543,309.1 L533,314.9 L526.4,317.4 L525.5,328.2 L523,339.9 L514.7,341.5 L508.1,354 L499.8,357.3 L492.3,351.5 L490.6,334.9 L483.1,333.2 L483.1,326.9 L498.1,325.7 L506.4,325.7 L511.1,329.9 L513.4,321.6 L513.1,312.4 L516.4,308.3Z" fill="#74add1" stroke="#74add1" stroke-width="0.7"/>
<path d="M497.3,312.9 L513.4,312.4 L513.4,323.3 L511.1,329.9 L506.4,325.7 L503.4,321.6 L498.1,321.6Z" fill="#fdae61" stroke="#fdae61" stroke-width="0.7"/>
<path d="M526.4,317.4 L533,314.9 L543,309.1 L549.7,310 L551.3,318.3 L548.8,328.2 L547.2,334.9 L539.7,329.9 L532.2,328.2 L526.4,331.6 L525.5,328.2Z" fill="#e0f3f8" stroke="#e0f3f8" stroke-width="0.7"/>
<path d="M523,339.9 L525.5,328.2 L526.4,331.6 L532.2,328.2 L539.7,329.9 L547.2,334.9 L549.7,339.9 L544.7,353.2 L533,358.2 L519.7,360.2 L514.7,356.5 L508.1,354 L514.7,341.5Z" fill="#abd9e9" stroke="#abd9e9" stroke-width="0.7"/>
<path d="M446.6,374.8 L450.7,356.5 L452.9,339.1 L456.5,339.9 L458.2,349.9 L462.4,356.5 L458.2,363.2 L456.2,374.8Z" fill="#fdae61" stroke="#fdae61" stroke-width="0.7"/>
<path d="M456.5,339.9 L463.2,338.2 L469,334.1 L474,346.5 L478.2,355.7 L474.8,361.5 L478.2,374.8 L456.2,374.8 L458.2,363.2 L462.4,356.5 L458.2,349.9Z" fill="#abd9e9" stroke="#abd9e9" stroke-width="0.7"/>
<path d="M474,356.5 L478.2,355.3 L484.8,353.2 L490.6,354 L491.1,361.5 L488.1,368.2 L481.5,370.1 L476.5,363.2Z" fill="#74add1" stroke="#74add1" stroke-width="0.7"/>
<path d="M446.6,375 L448.2,369.2 L455.7,369.2 L453.5,375.3Z" fill="#fdae61" stroke="#fdae61" stroke-width="0.7"/>
<path d="M439.9,453.1 L434.1,441.5 L435.7,426.5 L439.9,411.6 L442.4,394.9 L446.6,376.7 L453.5,375 L453.2,386.6 L449.9,403.3 L448.2,419.9 L444.9,436.5 L447.4,443.2 L454.9,449 L457.4,454.8Z" fill="#ffffbf" stroke="#ffffbf" stroke-width="0.7"/>
<path d="M453.2,375 L455.7,369.2 L478.2,369.2 L477.3,380 L466.5,378.3 L468.2,386.6 L466.5,394.9 L464,394.9 L461.5,386.6 L453.2,385Z" fill="#abd9e9" stroke="#abd9e9" stroke-width="0.7"/>
<path d="M466.5,378.3 L477.3,380 L478.2,390 L474.8,392.4 L468.2,391.6 L468.2,386.6Z" fill="#74add1" stroke="#74add1" stroke-width="0.7"/>
<path d="M477.8,365 L486.5,365 L486.5,370 L483.1,380 L481.5,387.5 L476.5,390 L477.3,380Z" fill="#4575b4" stroke="#4575b4" stroke-width="0.7"/>
<path d="M486.5,370 L493.1,376.7 L490.6,388.3 L483.1,390.3 L481.5,387.5 L483.1,380Z" fill="#abd9e9" stroke="#abd9e9" stroke-width="0.7"/>
<path d="M490.6,380 L494.8,377.5 L506.4,384.1 L503.9,390.8 L494.8,393.3 L489.8,390Z" fill="#74add1" stroke="#74add1" stroke-width="0.7"/>
<path d="M453.2,385 L461.5,386.6 L464,394.9 L474,393.3 L474,404.9 L466.5,403.3 L458.2,399.9 L453.2,398.3Z" fill="#fee090" stroke="#fee090" stroke-width="0.7"/>
<path d="M474,393.3 L474.8,392.4 L478.2,390 L483.1,390 L490.6,391.3 L496.4,396.6 L493.1,404.1 L483.1,406.6 L476.5,406.6 L474,404.9Z" fill="#74add1" stroke="#74add1" stroke-width="0.7"/>
</g>
<path d="M431.3,255.5 L432.8,257.4 L436.8,249.1 L438.9,247.6 L444.4,246.6 L448.4,243.5 L449.6,247.9 L448.7,248.8 L453,246.3 L453.6,244.1 L454.5,246.3 L458.8,248.8 L465.8,249.1 L470.4,250.4 L476.5,248.8 L478.4,251 L481.7,255.8 L487.2,257.4 L491.8,262.7 L497.9,264 L502.5,264.3 L507.1,266.8 L511.1,269.3 L514.7,276.9 L514.7,281.7 L519.3,284.2 L523.9,284.8 L531.5,289.5 L534.6,290.2 L540.7,291.8 L546.8,292.1 L552.9,296.8 L559.6,299 L561.2,305.3 L560.6,311 L556,315.7 L552.9,320.5 L548.9,325.2 L548.3,333.1 L546.8,341 L543.7,347.3 L542.2,352 L539.2,355.2 L531.5,355.8 L526,358.3 L520.2,363.1 L519,369.4 L516.2,374.8 L511.7,380.4 L508,385.2 L504,389.9 L499.4,392.7 L493.3,391.8 L489.1,389.9 L492.4,395 L493.9,397.8 L490.9,403.2 L485.7,405.1 L478.1,405.7 L477.1,411.4 L468.9,412 L472.9,416.7 L468.9,419.9 L467.4,424.6 L461.2,427.8 L465.8,432.5 L461.2,437.2 L456.7,442 L458.2,447.7 L458.8,449.9 L468.3,455.2 L458.2,457.4 L449,453 L441.4,448.3 L436.8,440.4 L436.8,430.9 L441.4,424.6 L444.4,415.2 L442,408.8 L442.9,401 L446,394.6 L448.7,386.7 L449,377.3 L450.6,367.8 L452.1,358.3 L453,345.7 L452.4,340.7 L447.5,336.3 L438.3,331.5 L434.4,326.2 L431.6,320.5 L427.6,312.6 L423.7,304.7 L419.4,301.5 L419.1,296.8 L422.1,293.3 L423.1,290.8 L420,289.5 L420.9,285.8 L423.1,281.7 L423.1,279.4 L426.7,277.9 L427.6,274.4 L431.3,270.3 L430.7,264.9 L430.7,258.9Z" fill="none" stroke="#b6b6b6" stroke-width="1.6" stroke-linejoin="round"/>
<g clip-path="url(#c4)" shape-rendering="crispEdges">
<path d="M746.3,58.2 L753.1,58.5 L762.2,60.7 L759.2,62.6 L768.3,63.6 L777.5,64.2 L792.8,70.5 L789.7,73.7 L774.4,72.7 L768.3,72.1 L772.9,77.5 L780.6,80.9 L789.7,78.4 L791.3,74.9 L800.4,73.7 L801.9,69.6 L800.4,66.1 L808.1,67.4 L809.6,71.1 L814.2,69.3 L829.4,66.4 L841.7,66.1 L852.4,62.3 L864.6,64.2 L872.2,65.5 L871.6,60.1 L876.8,53.8 L881.4,51.9 L889,52.8 L889.9,58.5 L887.5,66.4 L893,71.8 L889,72.7 L893.6,68 L895.1,58.5 L896.7,54.4 L905.8,54.4 L913.5,55.4 L913.5,50.6 L930.3,49.1 L933.3,45.9 L957.8,42.4 L973.1,41.2 L986.2,37.4 L994.4,40.2 L1009.7,41.2 L1014.3,44.3 L1003.6,49.1 L1012.8,50 L1028.1,50.6 L1043.3,50.6 L1055.6,52.8 L1063.2,57.6 L1073.9,56.9 L1086.1,57.3 L1095.3,53.8 L1110.6,54.1 L1125.8,56.9 L1141.1,58.5 L1156.4,61.7 L1162.5,62.9 L1180.8,62.3 L1188.5,64.8 L1190,61.7 L1205.3,62.3 L1217.5,64.8 L1217.5,76.8 L1212.9,78.7 L1209.3,78.4 L1215.4,84.4 L1202.2,86.3 L1193.1,90.1 L1187.9,93.2 L1176.3,92.3 L1170.1,93.6 L1166.5,98.9 L1163.4,100.2 L1166.2,105.2 L1162.5,109.7 L1156.4,114.7 L1151.2,118.5 L1146.3,121.6 L1144.2,115.3 L1143.6,105.9 L1147.2,100.2 L1154.9,95.4 L1162.2,92 L1167.1,88.5 L1157.9,87.6 L1147.2,88.5 L1139.6,94.8 L1132,96.4 L1119.7,95.1 L1104.5,95.4 L1096.8,100.2 L1086.1,110.6 L1090.7,112.2 L1096.8,114.7 L1099.3,117.9 L1096.8,124.8 L1095.3,131.1 L1089.2,137.4 L1081.5,143.7 L1073.9,147.5 L1067.2,148.5 L1063.8,153.2 L1059.5,156.4 L1057.1,157.9 L1059.5,160.8 L1062.9,165.8 L1062.9,170.6 L1060.1,172.1 L1054,174 L1053.4,170.6 L1054.3,165.8 L1049.5,162.7 L1050.4,157.9 L1047.3,156.4 L1040.3,158.9 L1038.8,154.8 L1037.2,153.2 L1032.6,157 L1027.1,159.5 L1029.6,162.7 L1032.6,165.2 L1041.8,164.6 L1037.2,167.4 L1032,171.5 L1035.7,176.9 L1039.7,182.2 L1039.7,187 L1038.8,192.7 L1034.2,199 L1031.1,203.1 L1026.5,207.5 L1020.4,211 L1014.3,212.5 L1006.7,215.4 L1004.5,218.2 L1002.7,214.7 L997.5,214.4 L993.5,217.9 L990.8,222.6 L996,230.5 L1000.6,236.8 L1001.5,243.2 L999,247.9 L993.8,250.1 L988.3,255.1 L987.7,250.4 L982.2,247.9 L980.1,244.1 L975.8,242.2 L974.6,240 L973.1,243.2 L970.9,249.5 L973.1,254.2 L974.6,259.9 L979.2,263 L983.4,268.4 L983.8,274.7 L985.9,278.2 L983.4,277.9 L977,273.4 L974.6,268.4 L973.7,262.4 L969.1,257.4 L967.9,252.6 L969.1,246.3 L968.5,238.4 L966,233.7 L965.4,229.6 L959.3,232.4 L955.6,231.5 L955.9,224.2 L952.3,219.5 L948.6,214.7 L947.1,211 L943.4,213.2 L939.4,213.8 L933.3,215.4 L931.8,219.5 L927.2,222 L919,229.6 L912.9,233.7 L911.9,240 L911.3,246.3 L909.8,250.1 L906.4,254.5 L904.3,257 L901.3,254.2 L898.2,246.3 L895.1,238.4 L891.5,228.9 L889.9,222.6 L889.6,216.3 L888.4,214.4 L882.9,217 L878.3,212.2 L877.4,209.1 L873.1,205.9 L870.7,202.8 L863.1,202.8 L855.4,203.4 L846.3,202.1 L841.7,198 L839.5,197.1 L834,198.7 L827.9,195.8 L823.3,191.7 L820.3,187.3 L816.3,187 L814.2,189.5 L816.3,194.2 L820.3,198.7 L820.9,202.1 L824.9,200.5 L825.2,205.9 L832.5,206.2 L838.6,201.2 L839.8,199.6 L840.1,204.3 L846.6,208.1 L850.2,211.6 L846.3,217.9 L843.8,222.6 L840.1,225.8 L835.6,228.9 L827,232.1 L817.2,237.5 L805,242.2 L800.4,242.5 L798.3,235.9 L797.7,230.5 L792.8,222.6 L787.3,214.7 L781.2,203.7 L776,194.9 L774.1,189.5 L772,194.9 L768.3,191.7 L766.8,187.9 L766.2,183.8 L772,183.8 L774.4,179.1 L776.6,173.7 L777.5,169 L778.1,166.5 L772.9,166.8 L768.3,168.7 L761.3,166.5 L756.1,168 L751.5,165.8 L748.5,161.1 L747.6,157.9 L748.5,155.7 L756.1,154.8 L756.7,152.6 L763.8,152.6 L769.9,150 L774.4,150 L779,152.3 L785.1,153.5 L794.3,151.6 L794.3,147.8 L788.2,144.7 L782.1,141.5 L779.9,139.6 L786.7,133.6 L775.1,136.5 L776,139.6 L769.9,142.2 L767.1,139 L770.5,137.1 L763.8,135.5 L761.3,136.2 L758.3,139.6 L754.9,144.7 L752.4,148.5 L753.7,151.3 L756.1,152.6 L753.1,153.2 L749.4,154.5 L746.9,153.8 L742.4,153.8 L740.2,156.4 L737.2,155.1 L737.2,158.6 L740.8,162.7 L738.4,164.6 L737.8,167.4 L734.7,166.5 L732.6,163.3 L731.7,160.1 L728.6,157.3 L726.8,151.6 L725.6,149.1 L721,146.9 L714.9,142.8 L711.8,139.9 L709.4,138.7 L705.1,139.6 L705.4,143.1 L709.1,145.3 L710.9,148.8 L716.4,150.7 L724,155.7 L719.4,155.1 L718.2,157.6 L719.8,159.5 L716.7,162.7 L715.5,162.7 L717,159.2 L715.5,156.4 L711.2,153.8 L705.7,151.3 L701.1,148.5 L699,145.3 L694.4,142.5 L690.4,144.4 L684,145.9 L679.4,145.3 L676.7,148.5 L677.3,150.4 L669.9,153.8 L666.9,158.6 L667.8,160.5 L665.4,163.6 L661.4,166.5 L653.7,166.8 L651,168.7 L648.2,167.1 L644.9,165.2 L640.3,165.8 L640.6,161.1 L638.5,160.1 L640.6,155.4 L640.9,150 L639.4,146.9 L643.1,144.7 L649.8,145 L656.8,145.3 L662,145.6 L663.8,141.5 L664.1,137.4 L660.8,134 L653.7,131.4 L653.1,129.5 L658.3,128.6 L662.6,128.9 L662,125.7 L664.4,126.7 L668.1,126.4 L672.1,124.2 L672.7,122 L678.2,120.4 L680.6,117.9 L682.2,115.3 L685.8,114.1 L689.5,113.8 L693.5,112.8 L694.1,109.7 L692.6,107.4 L692.6,102.7 L697.4,100.8 L699.9,100.5 L699,104.3 L700.5,104.9 L698.1,108.4 L696.5,109.3 L698.1,110.9 L701.1,111.2 L705.7,110.9 L710.9,112.5 L716.4,111.2 L724,109.7 L728,110.9 L731.7,108.4 L731.7,103.3 L734.7,100.8 L740.8,102.4 L741.8,98.6 L739.3,95.8 L746.9,94.5 L753.1,94.5 L759.8,93.6 L754.6,91.3 L743.9,92.6 L737.5,93.6 L733.2,91 L732.6,86.9 L733.2,83.1 L742.4,78.1 L744.8,75.9 L741.4,74.9 L735.3,75.3 L733.2,79 L725.6,82.8 L720.4,86 L720.1,91 L724.6,93.2 L724,96.4 L718.5,98 L717.9,102.7 L716.4,105.2 L711.2,107.1 L706.9,107.8 L706.6,104.9 L703.6,100.5 L701.7,96.4 L699.9,93.9 L696.5,96.7 L691.9,99.2 L687.4,98.9 L684.3,96.4 L682.8,91.7 L682.8,86.9 L687.4,84.4 L693.5,81.9 L699.6,79 L705.1,74.9 L707.2,71.1 L711.8,68 L716.4,65.5 L722.5,62.6 L728.6,61 L736.3,59.5Z" fill="#e0f3f8"/>
<path d="M630.8,175.3 L630.8,55.4 L740.8,55.4 L756.1,56.9 L756.1,61.7 L745.4,62 L731.7,64.2 L739.3,68.6 L740.8,74.9 L731.7,83.8 L728.6,93.2 L731.7,100.2 L731.7,110.9 L746.9,112.2 L753.1,105.9 L762.2,109 L766.8,115.3 L774.4,121.6 L789.7,126.1 L788.5,134.3 L777.5,143.7 L759.2,143.7 L757.6,152.3 L747.9,152.3 L746.9,159.5 L753.1,172.1 L728.6,175.3Z" fill="#f46d43" stroke="#f46d43" stroke-width="0.7"/>
<path d="M801.1,70.7 L818.9,72.7 L850.4,69.7 L868.2,66.8 L866.2,60.8 L850.4,62.8 L834.6,66.8 L814.9,66.8Z" fill="#fdae61" stroke="#fdae61" stroke-width="0.7"/>
<path d="M853.9,63.3 L860,72.7 L869.2,75.9 L881.4,76.8 L899.7,80.6 L911.9,82.2 L924.2,86.9 L933.3,93.2 L951.7,94.8 L960.8,101.1 L976.1,104.3 L991.4,102.7 L997.5,98 L1009.7,102.7 L1021.9,104.3 L1028.1,110.6 L1037.2,113.8 L1034.2,124.8 L1031.1,131.1 L1021.9,135.8 L1031.1,143.7 L1037.2,151.6 L1046.4,157.9 L1054,151.6 L1061.7,148.5 L1067.8,149.4 L1077,150 L1101.4,137.4 L1110.6,109 L1156.4,124.8 L1223.6,93.2 L1223.6,30.1 L850.8,30.1Z" fill="#fdae61" stroke="#fdae61" stroke-width="0.7"/>
<path d="M849.4,68.7 L858.3,77.6 L862.2,80 L878,81.9 L897.7,80 L907.6,82.9 L925.3,85.9 L929.3,80 L917.4,68.1 L878,60.8Z" fill="#fdae61" stroke="#fdae61" stroke-width="0.7"/>
<path d="M849.4,78.6 L858.3,77.6 L878,81.5 L897.7,79.6 L907.6,82.5 L925.3,85.5 L929.3,79.6 L917.4,67.7 L929.3,71.7 L939.1,75.6 L943.1,87.5 L949,97.3 L937.2,105.2 L917.4,103.2 L897.7,99.3 L889.8,95.3 L878,94.4 L868.2,97.3 L850.4,89.4Z" fill="#fee090" stroke="#fee090" stroke-width="0.7"/>
<path d="M850.4,89.4 L868.2,97.3 L878,94.4 L889.8,95.3 L895.8,99.3 L885.9,103.2 L882,109.1 L858.3,113.1 L847.5,118 L842.5,107.2Z" fill="#ffffbf" stroke="#ffffbf" stroke-width="0.7"/>
<path d="M796.2,122 L805.1,118 L824.8,119 L830.7,113.1 L847.5,118 L858.3,113.1 L882,109.1 L885.9,103.2 L895.8,99.3 L907.6,117 L905.6,128.9 L897.7,136.8 L878,136.8 L858.3,132.8 L850.4,134.8 L844.5,128.9 L834.6,128.9 L832.7,136.8 L836.6,144.6 L832.7,150.6 L824.8,144.6 L826.8,136.8 L818.9,132.8 L799.1,132.8Z" fill="#fee090" stroke="#fee090" stroke-width="0.7"/>
<path d="M895.8,99.3 L897.7,99.3 L917.4,103.2 L937.2,105.2 L949,97.3 L945,89.4 L958.8,89.4 L962.8,94.4 L976.6,99.3 L962.8,107.2 L968.7,117 L991.4,122.9 L991.4,152.5 L962.8,152.5 L945,132.8 L917.4,121 L907.6,117Z" fill="#ffffbf" stroke="#ffffbf" stroke-width="0.7"/>
<path d="M850.4,134.8 L858.3,132.8 L878,136.8 L897.7,136.8 L893.8,150.6 L858.3,150.6 L856.3,142.7Z" fill="#ffffbf" stroke="#ffffbf" stroke-width="0.7"/>
<path d="M731.7,64.5 L745.4,62.9 L752.4,61.7 L757,62.9 L754.6,65.5 L759.2,69.6 L756.7,74.3 L759.8,79 L763.8,84.4 L753.1,91.7 L743.9,93.6 L737.5,94.2 L731.7,91.7 L730.1,83.8 L740.8,76.5 L740.8,74.3 L739.3,68.6Z" fill="#4575b4" stroke="#4575b4" stroke-width="0.7"/>
<path d="M731.1,105.9 L731.7,100.2 L739.3,94.5 L753.7,94.2 L751.5,101.1 L753.7,105.2 L748.5,106.8 L746.9,111.5 L739.3,112.2 L731.7,110.9Z" fill="#4575b4" stroke="#4575b4" stroke-width="0.7"/>
<path d="M755,65.4 L757.7,61 L769.6,62.2 L791.3,67.7 L794.2,72.7 L779.4,77.6 L782.4,81.5 L778.4,89.4 L762.1,85.1 L755.4,72.1Z" fill="#abd9e9" stroke="#abd9e9" stroke-width="0.7"/>
<path d="M751.8,97.3 L759.7,92.4 L771.5,90.4 L777.5,97.3 L771.5,104.2 L761.7,107.2 L751.8,106.2Z" fill="#74add1" stroke="#74add1" stroke-width="0.7"/>
<path d="M777.5,90.4 L797.2,91.4 L795.2,97.3 L782.4,97.3 L782.4,109.1 L769.6,113.1 L761.7,107.2 L771.5,104.2 L777.5,97.3Z" fill="#abd9e9" stroke="#abd9e9" stroke-width="0.7"/>
<path d="M779.4,77.6 L793.2,73.7 L818.9,74.6 L822.8,81.5 L814.9,89.4 L797.2,91.4 L782.4,89.4 L782.4,81.5Z" fill="#ffffbf" stroke="#ffffbf" stroke-width="0.7"/>
<path d="M790.3,99.3 L799.1,95.3 L812.9,96.3 L811,107.2 L801.1,111.1 L793.2,107.2Z" fill="#ffffbf" stroke="#ffffbf" stroke-width="0.7"/>
<path d="M812.9,96.3 L822.8,93.4 L832.7,96.3 L831.7,109.1 L824.8,118 L816.9,115.1 L811,107.2Z" fill="#abd9e9" stroke="#abd9e9" stroke-width="0.7"/>
<path d="M782.4,137.7 L789.3,134.4 L799.1,136.4 L809,142.7 L815.9,150.9 L797.2,150.9 L787.3,142.7Z" fill="#f46d43" stroke="#f46d43" stroke-width="0.7"/>
<path d="M795.8,121.4 L829.3,112.5 L854.9,115.5 L886.5,99.7 L898.3,105.6 L908.2,119.4 L902.2,135.2 L872.7,137.2 L856.9,133.2 L839.1,139.1 L835.2,151 L829.3,145.1 L833.2,139.1 L825.3,133.2 L811.5,135.2 L797.7,131.3Z" fill="#fee090" stroke="#fee090" stroke-width="0.7"/>
<path d="M847,87.9 L862.8,97.7 L894.4,97.7 L886.5,101.7 L854.9,115.5 L843.1,103.7Z" fill="#ffffbf" stroke="#ffffbf" stroke-width="0.7"/>
<path d="M898.3,105.6 L918,103.7 L947.6,99.7 L951.5,89.9 L977.2,95.8 L961.4,107.6 L977.2,119.4 L996.9,125.3 L1031.4,127.3 L1031.4,135.2 L1016.6,139.1 L996.9,145.1 L977.2,147 L957.4,143.1 L937.7,135.2 L922,127.3 L908.2,119.4Z" fill="#ffffbf" stroke="#ffffbf" stroke-width="0.7"/>
<path d="M977.2,95.8 L996.9,103.7 L1031.4,101.7 L1031.4,127.3 L996.9,125.3 L977.2,119.4 L961.4,107.6Z" fill="#fee090" stroke="#fee090" stroke-width="0.7"/>
<path d="M856.9,133.2 L872.7,137.2 L892.4,136.2 L890.4,145.1 L874.6,152.9 L866.8,145.1 L855.9,139.1Z" fill="#ffffbf" stroke="#ffffbf" stroke-width="0.7"/>
<path d="M908.2,143.1 L918,139.1 L925.9,145.1 L923.9,156.9 L910.1,157.9Z" fill="#ffffbf" stroke="#ffffbf" stroke-width="0.7"/>
<path d="M852.9,180.6 L854.9,170.7 L864.8,164.8 L874.6,156.9 L882.5,154.9 L890.4,160.8 L902.2,164.8 L908.2,174.6 L906.2,180.6Z" fill="#abd9e9" stroke="#abd9e9" stroke-width="0.7"/>
<path d="M904.2,162.8 L914.1,157.9 L925.9,160.8 L924.9,170.7 L910.1,172.7Z" fill="#abd9e9" stroke="#abd9e9" stroke-width="0.7"/>
<path d="M935.8,147 L947.6,141.1 L961.4,147 L953.5,152.9 L939.7,152Z" fill="#abd9e9" stroke="#abd9e9" stroke-width="0.7"/>
<path d="M965.3,148 L977.2,147 L996.9,145.1 L1016.6,139.1 L1031.4,135.2 L1031.4,180.6 L1006.7,180.6 L1006.7,174.6 L1004.8,158.9 L992.9,162.8 L977.2,158.9Z" fill="#fee090" stroke="#fee090" stroke-width="0.7"/>
<path d="M951.5,155.9 L963.4,148 L977.2,158.9 L992.9,162.8 L1004.8,158.9 L1006.7,174.6 L996.9,180.6 L981.1,180.6 L979.1,168.7 L967.3,162.8Z" fill="#fdae61" stroke="#fdae61" stroke-width="0.7"/>
<path d="M989,98.9 L1025.5,99.9 L1039.3,109.7 L1049.1,123.5 L1041.3,135.3 L1045.2,147.2 L1032.4,155.1 L1027.5,157 L1015.6,149.1 L1001.8,155.1 L989,157Z" fill="#fee090" stroke="#fee090" stroke-width="0.7"/>
<path d="M989,124.5 L1009.7,123.5 L1033.4,129.4 L1029.4,141.3 L1009.7,147.2 L989,149.1Z" fill="#ffffbf" stroke="#ffffbf" stroke-width="0.7"/>
<path d="M1025.5,99.9 L1039.3,109.7 L1049.1,123.5 L1045.8,132.4 L1040.9,137.9 L1041.7,141.9 L1031,152.7 L1033.8,158 L1049.1,156 L1054.1,150.7 L1072.8,148.2 L1092.5,129.4 L1100.4,109.7 L1088.6,90 L1025.5,90Z" fill="#fdae61" stroke="#fdae61" stroke-width="0.7"/>
<path d="M1047.2,156 L1054.1,150.1 L1068.9,149.1 L1070.8,174.8 L1055.1,176.8 L1048.2,166.9Z" fill="#fee090" stroke="#fee090" stroke-width="0.7"/>
<path d="M1015.6,149.1 L1027.5,157 L1041.3,157 L1043.2,192.5 L1019.6,192.5 L1017.6,172.8Z" fill="#ffffbf" stroke="#ffffbf" stroke-width="0.7"/>
<path d="M1001.8,155.1 L1015.6,149.1 L1017.6,172.8 L1019.6,192.5 L1001.8,192.5Z" fill="#fee090" stroke="#fee090" stroke-width="0.7"/>
<path d="M989,159 L1005.8,159 L1003.8,176.8 L989,176.8Z" fill="#fdae61" stroke="#fdae61" stroke-width="0.7"/>
<path d="M968.2,149 L1033.2,149 L1037.2,159.9 L1037.2,213.1 L1003.6,213.1 L989.8,207.2 L1003.6,199.3 L1003.6,182.5 L1007.6,175.6 L1005.6,159.9 L989.8,163.8 L978,161.8Z" fill="#fee090" stroke="#fee090" stroke-width="0.7"/>
<path d="M951.4,155.9 L962.2,149 L978,161.8 L989.8,163.8 L1005.6,159.9 L1007.6,175.6 L997.7,182.5 L982,175.6 L978,165.8 L962.2,161.8Z" fill="#fdae61" stroke="#fdae61" stroke-width="0.7"/>
<path d="M1001.7,188.4 L1015.5,188.4 L1015.5,204.2 L1001.7,204.2Z" fill="#fdae61" stroke="#fdae61" stroke-width="0.7"/>
<path d="M1015.5,149 L1041.1,149 L1041.1,189.4 L1035.2,205.2 L1025.3,207.2 L1023.4,195.3 L1017.4,179.6 L1015.5,165.8Z" fill="#ffffbf" stroke="#ffffbf" stroke-width="0.7"/>
<path d="M964.2,164.8 L978,161.8 L982,175.6 L976,179.6 L966.2,175.6Z" fill="#ffffbf" stroke="#ffffbf" stroke-width="0.7"/>
<path d="M982,209.1 L997.7,209.1 L997.7,219 L985.9,219Z" fill="#ffffbf" stroke="#ffffbf" stroke-width="0.7"/>
<path d="M907,149 L924.8,149 L924.8,157.9 L907,157.9Z" fill="#ffffbf" stroke="#ffffbf" stroke-width="0.7"/>
<path d="M905.1,158.9 L924.8,157.9 L926.8,171.7 L918.9,177.6 L908,171.7Z" fill="#abd9e9" stroke="#abd9e9" stroke-width="0.7"/>
<path d="M852.8,171.7 L865.6,165.8 L877.5,157.9 L889.3,158.9 L899.1,167.7 L891.3,169.7 L879.4,177.6 L881.4,182.5 L857.7,189.4 L852.8,181.5Z" fill="#abd9e9" stroke="#abd9e9" stroke-width="0.7"/>
<path d="M855.8,190.4 L881.4,182.5 L884.4,195.3 L882.4,201.3 L886.3,209.1 L875.5,209.1 L869.6,204.2 L856.8,204.2Z" fill="#fdae61" stroke="#fdae61" stroke-width="0.7"/>
<path d="M879.4,177.6 L891.3,167.7 L898.2,181.5 L893.2,195.3 L884.4,195.3 L881.4,182.5Z" fill="#fee090" stroke="#fee090" stroke-width="0.7"/>
<path d="M839,181.5 L852.8,183.5 L859.7,195.3 L857.7,203.2 L839,202.2Z" fill="#74add1" stroke="#74add1" stroke-width="0.7"/>
<path d="M877.5,207.2 L885.3,207.2 L884.4,195.3 L893.2,195.3 L898.2,181.5 L912.9,188.4 L926.8,195.3 L938.6,198.3 L938.6,193.4 L966.2,192.4 L968.2,201.3 L958.3,207.2 L950.4,215.1 L938.6,215.1 L928.7,228.9 L912.9,238.7 L909,260.4 L899.1,260.4 L891.3,228.9 L889.3,215.1 L879.4,213.1Z" fill="#4575b4" stroke="#4575b4" stroke-width="0.7"/>
<path d="M908,171.7 L918.9,177.6 L928.7,181.5 L942.5,188.4 L942.5,194.4 L926.8,192.4 L914.9,186.5 L907,181.5Z" fill="#fee090" stroke="#fee090" stroke-width="0.7"/>
<path d="M912.9,188.4 L926.8,192.4 L938.6,194.4 L938.6,198.3 L926.8,197.3 L914.9,192.4Z" fill="#74add1" stroke="#74add1" stroke-width="0.7"/>
<path d="M942.5,182.5 L958.3,179.6 L970.1,181.5 L969.1,192.4 L958.3,196.3 L942.5,194.4Z" fill="#ffffbf" stroke="#ffffbf" stroke-width="0.7"/>
<path d="M938,199.3 L948.4,199.3 L948.4,213.1 L938.6,213.5Z" fill="#e0f3f8" stroke="#e0f3f8" stroke-width="0.7"/>
<path d="M950.4,215.1 L958.3,207.2 L968.2,201.3 L969.1,194.4 L976,213.1 L970.1,219 L968.2,232.8 L966.2,242.7 L958.3,228.9Z" fill="#74add1" stroke="#74add1" stroke-width="0.7"/>
<path d="M968.2,232.8 L970.1,219 L976,213.1 L985.9,219 L995.8,228.9 L995.8,236.8 L982,236.8 L978,252.5 L968.2,252.5 L970.1,242.7Z" fill="#abd9e9" stroke="#abd9e9" stroke-width="0.7"/>
<path d="M985.9,219 L997.7,215.1 L1003.6,228.9 L1001.7,252.5 L993.8,252.5 L995.8,236.8 L995.8,228.9Z" fill="#ffffbf" stroke="#ffffbf" stroke-width="0.7"/>
<path d="M981,237.7 L995.8,236.8 L995.8,247.6 L985.9,250.6 L981,244.6Z" fill="#fdae61" stroke="#fdae61" stroke-width="0.7"/>
<path d="M965.4,241.6 L976.1,241.6 L976.1,262.1 L965.4,262.1Z" fill="#abd9e9" stroke="#abd9e9" stroke-width="0.7"/>
<path d="M970,261.8 L980.7,262.4 L988.3,279.4 L982.2,279.4 L973.1,270Z" fill="#fdae61" stroke="#fdae61" stroke-width="0.7"/>
<path d="M746.4,148.3 L796.3,146.6 L817.9,148.3 L817.9,161.6 L796.3,161.6 L779.7,166.6 L746.4,168.2Z" fill="#abd9e9" stroke="#abd9e9" stroke-width="0.7"/>
<path d="M746.4,153.3 L761.4,151.6 L763,159.9 L746.4,163.2Z" fill="#74add1" stroke="#74add1" stroke-width="0.7"/>
<path d="M776.3,167.4 L796.3,164.9 L794.6,173.2 L784.6,179.9 L776.3,178.2Z" fill="#f46d43" stroke="#f46d43" stroke-width="0.7"/>
<path d="M772.2,179.9 L784.6,179.9 L782.1,189.8 L773,189.8Z" fill="#74add1" stroke="#74add1" stroke-width="0.7"/>
<path d="M774.7,189.8 L782.1,189.8 L784.6,181.5 L796.3,183.2 L821.2,198.2 L822.9,206.5 L776.3,206.5Z" fill="#f46d43" stroke="#f46d43" stroke-width="0.7"/>
<path d="M784.6,179.9 L794.6,173.2 L796.3,164.9 L796.3,161.6 L806.3,161.6 L809.6,173.2 L824.5,186.5 L824.5,193.2 L812.9,191.5 L796.3,183.2Z" fill="#74add1" stroke="#74add1" stroke-width="0.7"/>
<path d="M796.3,195.7 L812.9,195.7 L812.9,206.5 L796.3,206.5Z" fill="#ffffbf" stroke="#ffffbf" stroke-width="0.7"/>
<path d="M826.2,183.2 L842,186.5 L842,198.2 L826.2,193.2Z" fill="#74add1" stroke="#74add1" stroke-width="0.7"/>
<path d="M782.6,181.6 L793.1,182.1 L806.4,188.8 L817.4,189.9 L821.8,198.7 L830.7,206.4 L839.5,204.2 L837.3,214.2 L826.2,223 L813,227.4 L802,227.4 L779.3,196.5 L776.6,191.5 L782.1,191Z" fill="#f46d43" stroke="#f46d43" stroke-width="0.7"/>
<path d="M778.8,195.9 L786.5,197.6 L789.8,202 L795.3,201.5 L796.4,214.2 L800.9,221.9 L802,227.4 L790.9,227.4 L785.4,214.2 L781,203.1Z" fill="#e0f3f8" stroke="#e0f3f8" stroke-width="0.7"/>
<path d="M795.3,201.5 L798.1,197.6 L804.2,195.9 L813,198.7 L815.2,206.4 L814.1,216.4 L813,227.4 L802,227.4 L800.9,221.9 L796.4,214.2Z" fill="#ffffbf" stroke="#ffffbf" stroke-width="0.7"/>
<path d="M795.8,227.4 L805,227.4 L815.1,225.2 L826.4,222 L836.2,218.5 L837.4,211.9 L836.2,207.5 L839.5,204.3 L843.2,203.7 L853.9,213.2 L835.6,232.1 L805,244.7 L795.8,241.6Z" fill="#4575b4" stroke="#4575b4" stroke-width="0.7"/>
<path d="M826.2,207 L836.2,206.4 L837.3,211.1 L830.7,211.1Z" fill="#74add1" stroke="#74add1" stroke-width="0.7"/>
<path d="M807.5,176.1 L814.1,180.5 L821.8,181 L826.2,184.4 L832.9,187.7 L839.5,182.7 L848.3,184.4 L853.9,187.7 L857.2,192.1 L859.4,198.7 L857.2,203.1 L843.9,202 L837.3,199.8 L828.5,195.4 L821.8,188.8 L815.2,186.6 L808.6,181Z" fill="#74add1" stroke="#74add1" stroke-width="0.7"/>
</g>
<path d="M746.3,58.2 L753.1,58.5 L762.2,60.7 L759.2,62.6 L768.3,63.6 L777.5,64.2 L792.8,70.5 L789.7,73.7 L774.4,72.7 L768.3,72.1 L772.9,77.5 L780.6,80.9 L789.7,78.4 L791.3,74.9 L800.4,73.7 L801.9,69.6 L800.4,66.1 L808.1,67.4 L809.6,71.1 L814.2,69.3 L829.4,66.4 L841.7,66.1 L852.4,62.3 L864.6,64.2 L872.2,65.5 L871.6,60.1 L876.8,53.8 L881.4,51.9 L889,52.8 L889.9,58.5 L887.5,66.4 L893,71.8 L889,72.7 L893.6,68 L895.1,58.5 L896.7,54.4 L905.8,54.4 L913.5,55.4 L913.5,50.6 L930.3,49.1 L933.3,45.9 L957.8,42.4 L973.1,41.2 L986.2,37.4 L994.4,40.2 L1009.7,41.2 L1014.3,44.3 L1003.6,49.1 L1012.8,50 L1028.1,50.6 L1043.3,50.6 L1055.6,52.8 L1063.2,57.6 L1073.9,56.9 L1086.1,57.3 L1095.3,53.8 L1110.6,54.1 L1125.8,56.9 L1141.1,58.5 L1156.4,61.7 L1162.5,62.9 L1180.8,62.3 L1188.5,64.8 L1190,61.7 L1205.3,62.3 L1217.5,64.8 L1217.5,76.8 L1212.9,78.7 L1209.3,78.4 L1215.4,84.4 L1202.2,86.3 L1193.1,90.1 L1187.9,93.2 L1176.3,92.3 L1170.1,93.6 L1166.5,98.9 L1163.4,100.2 L1166.2,105.2 L1162.5,109.7 L1156.4,114.7 L1151.2,118.5 L1146.3,121.6 L1144.2,115.3 L1143.6,105.9 L1147.2,100.2 L1154.9,95.4 L1162.2,92 L1167.1,88.5 L1157.9,87.6 L1147.2,88.5 L1139.6,94.8 L1132,96.4 L1119.7,95.1 L1104.5,95.4 L1096.8,100.2 L1086.1,110.6 L1090.7,112.2 L1096.8,114.7 L1099.3,117.9 L1096.8,124.8 L1095.3,131.1 L1089.2,137.4 L1081.5,143.7 L1073.9,147.5 L1067.2,148.5 L1063.8,153.2 L1059.5,156.4 L1057.1,157.9 L1059.5,160.8 L1062.9,165.8 L1062.9,170.6 L1060.1,172.1 L1054,174 L1053.4,170.6 L1054.3,165.8 L1049.5,162.7 L1050.4,157.9 L1047.3,156.4 L1040.3,158.9 L1038.8,154.8 L1037.2,153.2 L1032.6,157 L1027.1,159.5 L1029.6,162.7 L1032.6,165.2 L1041.8,164.6 L1037.2,167.4 L1032,171.5 L1035.7,176.9 L1039.7,182.2 L1039.7,187 L1038.8,192.7 L1034.2,199 L1031.1,203.1 L1026.5,207.5 L1020.4,211 L1014.3,212.5 L1006.7,215.4 L1004.5,218.2 L1002.7,214.7 L997.5,214.4 L993.5,217.9 L990.8,222.6 L996,230.5 L1000.6,236.8 L1001.5,243.2 L999,247.9 L993.8,250.1 L988.3,255.1 L987.7,250.4 L982.2,247.9 L980.1,244.1 L975.8,242.2 L974.6,240 L973.1,243.2 L970.9,249.5 L973.1,254.2 L974.6,259.9 L979.2,263 L983.4,268.4 L983.8,274.7 L985.9,278.2 L983.4,277.9 L977,273.4 L974.6,268.4 L973.7,262.4 L969.1,257.4 L967.9,252.6 L969.1,246.3 L968.5,238.4 L966,233.7 L965.4,229.6 L959.3,232.4 L955.6,231.5 L955.9,224.2 L952.3,219.5 L948.6,214.7 L947.1,211 L943.4,213.2 L939.4,213.8 L933.3,215.4 L931.8,219.5 L927.2,222 L919,229.6 L912.9,233.7 L911.9,240 L911.3,246.3 L909.8,250.1 L906.4,254.5 L904.3,257 L901.3,254.2 L898.2,246.3 L895.1,238.4 L891.5,228.9 L889.9,222.6 L889.6,216.3 L888.4,214.4 L882.9,217 L878.3,212.2 L877.4,209.1 L873.1,205.9 L870.7,202.8 L863.1,202.8 L855.4,203.4 L846.3,202.1 L841.7,198 L839.5,197.1 L834,198.7 L827.9,195.8 L823.3,191.7 L820.3,187.3 L816.3,187 L814.2,189.5 L816.3,194.2 L820.3,198.7 L820.9,202.1 L824.9,200.5 L825.2,205.9 L832.5,206.2 L838.6,201.2 L839.8,199.6 L840.1,204.3 L846.6,208.1 L850.2,211.6 L846.3,217.9 L843.8,222.6 L840.1,225.8 L835.6,228.9 L827,232.1 L817.2,237.5 L805,242.2 L800.4,242.5 L798.3,235.9 L797.7,230.5 L792.8,222.6 L787.3,214.7 L781.2,203.7 L776,194.9 L774.1,189.5 L772,194.9 L768.3,191.7 L766.8,187.9 L766.2,183.8 L772,183.8 L774.4,179.1 L776.6,173.7 L777.5,169 L778.1,166.5 L772.9,166.8 L768.3,168.7 L761.3,166.5 L756.1,168 L751.5,165.8 L748.5,161.1 L747.6,157.9 L748.5,155.7 L756.1,154.8 L756.7,152.6 L763.8,152.6 L769.9,150 L774.4,150 L779,152.3 L785.1,153.5 L794.3,151.6 L794.3,147.8 L788.2,144.7 L782.1,141.5 L779.9,139.6 L786.7,133.6 L775.1,136.5 L776,139.6 L769.9,142.2 L767.1,139 L770.5,137.1 L763.8,135.5 L761.3,136.2 L758.3,139.6 L754.9,144.7 L752.4,148.5 L753.7,151.3 L756.1,152.6 L753.1,153.2 L749.4,154.5 L746.9,153.8 L742.4,153.8 L740.2,156.4 L737.2,155.1 L737.2,158.6 L740.8,162.7 L738.4,164.6 L737.8,167.4 L734.7,166.5 L732.6,163.3 L731.7,160.1 L728.6,157.3 L726.8,151.6 L725.6,149.1 L721,146.9 L714.9,142.8 L711.8,139.9 L709.4,138.7 L705.1,139.6 L705.4,143.1 L709.1,145.3 L710.9,148.8 L716.4,150.7 L724,155.7 L719.4,155.1 L718.2,157.6 L719.8,159.5 L716.7,162.7 L715.5,162.7 L717,159.2 L715.5,156.4 L711.2,153.8 L705.7,151.3 L701.1,148.5 L699,145.3 L694.4,142.5 L690.4,144.4 L684,145.9 L679.4,145.3 L676.7,148.5 L677.3,150.4 L669.9,153.8 L666.9,158.6 L667.8,160.5 L665.4,163.6 L661.4,166.5 L653.7,166.8 L651,168.7 L648.2,167.1 L644.9,165.2 L640.3,165.8 L640.6,161.1 L638.5,160.1 L640.6,155.4 L640.9,150 L639.4,146.9 L643.1,144.7 L649.8,145 L656.8,145.3 L662,145.6 L663.8,141.5 L664.1,137.4 L660.8,134 L653.7,131.4 L653.1,129.5 L658.3,128.6 L662.6,128.9 L662,125.7 L664.4,126.7 L668.1,126.4 L672.1,124.2 L672.7,122 L678.2,120.4 L680.6,117.9 L682.2,115.3 L685.8,114.1 L689.5,113.8 L693.5,112.8 L694.1,109.7 L692.6,107.4 L692.6,102.7 L697.4,100.8 L699.9,100.5 L699,104.3 L700.5,104.9 L698.1,108.4 L696.5,109.3 L698.1,110.9 L701.1,111.2 L705.7,110.9 L710.9,112.5 L716.4,111.2 L724,109.7 L728,110.9 L731.7,108.4 L731.7,103.3 L734.7,100.8 L740.8,102.4 L741.8,98.6 L739.3,95.8 L746.9,94.5 L753.1,94.5 L759.8,93.6 L754.6,91.3 L743.9,92.6 L737.5,93.6 L733.2,91 L732.6,86.9 L733.2,83.1 L742.4,78.1 L744.8,75.9 L741.4,74.9 L735.3,75.3 L733.2,79 L725.6,82.8 L720.4,86 L720.1,91 L724.6,93.2 L724,96.4 L718.5,98 L717.9,102.7 L716.4,105.2 L711.2,107.1 L706.9,107.8 L706.6,104.9 L703.6,100.5 L701.7,96.4 L699.9,93.9 L696.5,96.7 L691.9,99.2 L687.4,98.9 L684.3,96.4 L682.8,91.7 L682.8,86.9 L687.4,84.4 L693.5,81.9 L699.6,79 L705.1,74.9 L707.2,71.1 L711.8,68 L716.4,65.5 L722.5,62.6 L728.6,61 L736.3,59.5Z" fill="none" stroke="#b6b6b6" stroke-width="1.6" stroke-linejoin="round"/>
<path d="M811.1,140.6 L817.2,135.8 L824.9,134.9 L829.4,139.6 L823.3,142.2 L821.2,142.2 L827.9,147.8 L828.8,151.6 L831.9,153.8 L829.4,157.9 L832.2,161.1 L831.9,164.9 L826.4,166.5 L821.2,164.9 L817.2,161.7 L818.1,155.7 L814.8,151 L812.6,146.9 L811.1,142.8Z" fill="#fff" stroke="#b6b6b6" stroke-width="1.2"/>
<path d="M846.3,135.8 L852.4,135.2 L855.4,139 L851.8,144.7 L846.3,144.7 L845.6,140.6Z" fill="#fff" stroke="#b6b6b6" stroke-width="1.2"/>
<g clip-path="url(#c5)" shape-rendering="crispEdges">
<path d="M766.8,187.9 L769.9,194.9 L773.8,203.7 L776.6,210 L780.6,216.3 L781.5,222.6 L785.1,225.8 L788.2,233.7 L793.4,236.8 L799.5,243.2 L798.9,246.3 L803.5,249.8 L811.1,247.6 L823.9,245 L823.3,249.5 L820.3,257.4 L815.7,265.2 L809.6,273.1 L801.9,279.4 L795.8,285.8 L791.3,290.5 L788.2,296.8 L786.1,303.1 L788.2,309.4 L791.3,315.7 L791.3,326.8 L789.7,333.1 L780.6,339.4 L774.4,345.7 L776,355.2 L768.3,363.1 L767.7,369.4 L762.2,376.6 L754.6,385.2 L746.9,389.6 L736.3,390.5 L728.6,392.4 L723.7,390.5 L722.5,385.2 L719.4,377.3 L714.9,367.8 L711.8,355.2 L705.7,339.4 L703.6,333.1 L708.8,320.5 L708.8,312.6 L704.8,301.5 L703.6,296.8 L696.5,288.9 L695,284.2 L696.5,277.9 L697.1,271.6 L693.5,268.1 L688.9,268.7 L684.3,265.2 L680.6,262.7 L675.1,262.7 L670.6,264 L661.4,267.1 L653.7,266.2 L644.6,268.7 L638.5,265.2 L632.4,260.8 L627.2,255.1 L626.2,251.7 L621.7,247.9 L616.5,243.5 L614,236.2 L617.1,232.1 L617.7,222.6 L615.6,216.3 L618.6,208.4 L623.2,200.5 L627.8,194.9 L633.3,191.7 L637.6,188.6 L637.6,183.2 L641.5,177.5 L646.7,175 L649.5,169.6 L651.3,169.3 L658.3,171.2 L662.9,171.5 L669,169 L676.7,166.1 L684.3,166.5 L691.9,165.8 L698.1,164.9 L701.1,165.8 L700.2,170.6 L698.7,174.3 L701.1,176.9 L705.7,178.8 L713.9,180.7 L716.4,183.8 L722.5,186.3 L728,185.4 L728.9,180.7 L733.2,178.8 L738.4,180 L743.9,182.6 L750,183.8 L756.1,185.1 L760.7,183.2 L766.2,183.8Z" fill="#74add1"/>
<path d="M615,223.3 L644.9,220.8 L648.2,205 L676.5,222.4 L684.8,219.9 L703.1,209.1 L716.4,210 L729.7,217.4 L741.4,220.8 L741.4,238.2 L736.4,239.9 L734.7,248.2 L726.4,254.8 L716.4,256.5 L709.8,251.5 L699.8,261.5 L696.5,258.2 L676.5,254.8 L675.7,259.8 L669,258.2 L668.2,249 L643.3,249 L639.9,244 L626.6,243.2 L615,238.2Z" fill="#4575b4" stroke="#4575b4" stroke-width="0.7"/>
<path d="M613.3,223.3 L644.9,220.8 L648.2,205 L639.9,196.7 L626.6,193.3 L615,206.6Z" fill="#abd9e9" stroke="#abd9e9" stroke-width="0.7"/>
<path d="M615,238.2 L626.6,243.2 L639.9,244 L643.3,249 L668.2,249 L669,258.2 L668.2,269.8 L626.6,269.8 L615,256.5Z" fill="#74add1" stroke="#74add1" stroke-width="0.7"/>
<path d="M675.7,259.8 L676.5,254.8 L696.5,258.2 L697.3,263.2 L689.8,268.2 L679.8,265.7Z" fill="#fee090" stroke="#fee090" stroke-width="0.7"/>
<path d="M689.8,268.2 L697.3,263.2 L699.8,261.5 L709.8,251.5 L716.4,256.5 L726.4,254.8 L734.7,248.2 L743,251.5 L748,259.8 L743,268.2 L726.4,268.2 L718.1,271.5 L713.1,276.5 L689.8,276.5Z" fill="#abd9e9" stroke="#abd9e9" stroke-width="0.7"/>
<path d="M630,169.9 L650,168.2 L663.3,171.5 L662.4,179.9 L668.2,184.8 L654.9,186.5 L641.6,193.2 L630,196.5Z" fill="#f46d43" stroke="#f46d43" stroke-width="0.7"/>
<path d="M662.4,169.9 L676.6,167.4 L694,166.6 L692.4,176.5 L694,181.5 L684.9,176.5 L674.9,181.5 L668.2,184.8 L662.4,179.9Z" fill="#4575b4" stroke="#4575b4" stroke-width="0.7"/>
<path d="M694,164.9 L703.2,164.9 L703.2,178.2 L696.5,186.5 L694,181.5 L692.4,176.5Z" fill="#f46d43" stroke="#f46d43" stroke-width="0.7"/>
<path d="M641.6,193.2 L654.9,186.5 L668.2,184.8 L673.2,186.5 L674.1,191.5 L670.7,198.2 L663.3,199.8 L646.6,199.8Z" fill="#e0f3f8" stroke="#e0f3f8" stroke-width="0.7"/>
<path d="M668.2,184.8 L674.9,181.5 L684.9,176.5 L694,181.5 L696.5,186.5 L698.2,206.5 L686.5,206.5 L684.9,189.8 L674.1,191.5 L673.2,186.5Z" fill="#ffffbf" stroke="#ffffbf" stroke-width="0.7"/>
<path d="M670.7,198.2 L674.1,191.5 L684.9,189.8 L686.5,206.5 L669.9,206.5Z" fill="#f46d43" stroke="#f46d43" stroke-width="0.7"/>
<path d="M696.5,186.5 L703.2,178.2 L713.1,179.9 L713.1,198.2 L703.2,201.5 L701.5,206.5 L698.2,206.5Z" fill="#e0f3f8" stroke="#e0f3f8" stroke-width="0.7"/>
<path d="M713.1,179.9 L729.8,179 L744.7,183.2 L744.7,194 L728.9,194 L728.9,198.2 L713.1,198.2Z" fill="#abd9e9" stroke="#abd9e9" stroke-width="0.7"/>
<path d="M703.2,201.5 L713.1,198.2 L728.9,198.2 L728.9,206.5 L701.5,206.5Z" fill="#f46d43" stroke="#f46d43" stroke-width="0.7"/>
<path d="M743.9,183.2 L768,184 L773,189.8 L771.3,194.8 L744.7,194.8Z" fill="#f46d43" stroke="#f46d43" stroke-width="0.7"/>
<path d="M728.9,194 L744.7,194 L744.7,206.5 L728.9,206.5Z" fill="#fdae61" stroke="#fdae61" stroke-width="0.7"/>
<path d="M744.7,194.8 L771.3,194.8 L776.3,206.5 L744.7,206.5Z" fill="#abd9e9" stroke="#abd9e9" stroke-width="0.7"/>
<path d="M639.9,196.7 L648.2,205 L676.5,222.4 L672.4,211.6 L671.5,200 L676.5,191.7 L659.9,189.2 L643.3,189.2Z" fill="#e0f3f8" stroke="#e0f3f8" stroke-width="0.7"/>
<path d="M671.5,200 L676.5,190.8 L685.7,192.5 L688.2,203.3 L698.1,210.8 L684.8,219.9 L676.5,222.4 L672.4,211.6Z" fill="#f46d43" stroke="#f46d43" stroke-width="0.7"/>
<path d="M684.8,189.2 L698.1,189.2 L700.6,201.6 L703.1,209.1 L698.1,210.8 L688.2,203.3 L685.7,192.5Z" fill="#ffffbf" stroke="#ffffbf" stroke-width="0.7"/>
<path d="M698.1,189.2 L716.4,189.2 L716.4,198.3 L702.3,203.3 L700.6,201.6Z" fill="#e0f3f8" stroke="#e0f3f8" stroke-width="0.7"/>
<path d="M702.3,203.3 L716.4,198.3 L728.9,198.3 L728.9,214.9 L716.4,210 L703.1,209.1Z" fill="#f46d43" stroke="#f46d43" stroke-width="0.7"/>
<path d="M728.9,194.2 L743.9,194.2 L743.9,220.8 L741.4,220.8 L729.7,217.4 L728.9,214.9Z" fill="#fdae61" stroke="#fdae61" stroke-width="0.7"/>
<path d="M743.9,195.8 L774.6,195 L777.9,212.4 L743.9,212.4Z" fill="#abd9e9" stroke="#abd9e9" stroke-width="0.7"/>
<path d="M743.9,189.2 L774.6,189.2 L774.6,195.3 L743.9,195.8Z" fill="#f46d43" stroke="#f46d43" stroke-width="0.7"/>
<path d="M743.9,212.4 L777.9,212.4 L782.9,228.2 L776.3,239.9 L766.3,231.6 L751.3,229.9 L751.3,219.9 L743.9,220.8Z" fill="#74add1" stroke="#74add1" stroke-width="0.7"/>
<path d="M736.4,239.9 L741.4,238.2 L741.4,220.8 L751.3,219.9 L751.3,229.9 L751.3,253.2 L743,251.5 L734.7,248.2Z" fill="#ffffbf" stroke="#ffffbf" stroke-width="0.7"/>
<path d="M751.3,229.9 L766.3,231.6 L765.5,239.9 L759.7,251.5 L751.3,253.2Z" fill="#abd9e9" stroke="#abd9e9" stroke-width="0.7"/>
<path d="M743,251.5 L751.3,253.2 L759.7,259.8 L776.3,264.8 L774.6,269 L759.7,268.2 L748,259.8Z" fill="#fee090" stroke="#fee090" stroke-width="0.7"/>
<path d="M759.7,251.5 L765.5,239.9 L766.3,231.6 L776.3,239.9 L782.9,228.2 L797.9,239.9 L799.6,246.5 L792.9,249.9 L791.2,263.2 L786.3,276.5 L759.7,276.5 L774.6,269 L776.3,264.8 L759.7,259.8Z" fill="#4575b4" stroke="#4575b4" stroke-width="0.7"/>
<path d="M792.9,249.9 L799.6,246.5 L821.2,243.2 L821.2,256.5 L801.2,268.2 L789.6,276.5 L786.3,276.5 L791.2,263.2Z" fill="#abd9e9" stroke="#abd9e9" stroke-width="0.7"/>
<path d="M693.2,259.2 L753.1,259.2 L756.4,271.6 L743.1,266.7 L728.2,268.3 L716.5,275 L712.4,276.6 L694.9,275.8Z" fill="#abd9e9" stroke="#abd9e9" stroke-width="0.7"/>
<path d="M694.1,275.8 L712.4,276.6 L712.4,290.8 L703.2,292.4 L696.6,289.9Z" fill="#ffffbf" stroke="#ffffbf" stroke-width="0.7"/>
<path d="M716.5,275 L728.2,268.3 L743.1,266.7 L758.1,271.6 L763.1,276.6 L756.4,281.6 L743.1,286.6 L734.8,291.6 L736.5,303.2 L728.2,307.4 L718.2,301.6 L704.9,299.9 L703.2,292.4 L712.4,290.8 L712.4,276.6Z" fill="#e0f3f8" stroke="#e0f3f8" stroke-width="0.7"/>
<path d="M748.1,259.2 L766.4,259.2 L776.4,266.7 L766.4,269.1 L758.1,267.5Z" fill="#fee090" stroke="#fee090" stroke-width="0.7"/>
<path d="M758.1,271.6 L766.4,269.1 L776.4,266.7 L788,270 L793,271.6 L793,288.3 L786.3,295.7 L779.7,293.3 L773,291.6 L779.7,306.6 L773,309.9 L776.4,326.5 L773,333.2 L766.4,326.5 L759.7,329.8 L768.1,334.8 L768.1,346.5 L746.4,346.5 L736.5,333.2 L735.6,323.2 L743.1,318.2 L753.1,319.9 L756.4,309.9 L759.7,299.9 L756.4,289.9 L756.4,281.6 L763.1,276.6Z" fill="#4575b4" stroke="#4575b4" stroke-width="0.7"/>
<path d="M788,270 L794.7,263.3 L817.9,259.2 L819.6,270 L799.7,288.3 L793,288.3 L793,271.6Z" fill="#74add1" stroke="#74add1" stroke-width="0.7"/>
<path d="M788,259.2 L808,259.2 L794.7,266.7 L789.7,270Z" fill="#abd9e9" stroke="#abd9e9" stroke-width="0.7"/>
<path d="M734.8,291.6 L743.1,286.6 L756.4,281.6 L756.4,289.9 L759.7,299.9 L756.4,309.9 L753.1,319.9 L743.1,318.2 L735.6,314.9 L734,308.2 L736.5,303.2Z" fill="#74add1" stroke="#74add1" stroke-width="0.7"/>
<path d="M704.9,299.9 L718.2,301.6 L728.2,307.4 L734,308.2 L735.6,314.9 L735.6,329.8 L723.2,326.5 L706.5,326.5 L699.9,314.9Z" fill="#abd9e9" stroke="#abd9e9" stroke-width="0.7"/>
<path d="M773,291.6 L779.7,293.3 L786.3,295.7 L793,309.9 L793,329.8 L783,339.8 L774.7,346.5 L768.1,346.5 L768.1,334.8 L773,333.2 L776.4,326.5 L773,309.9 L779.7,306.6Z" fill="#74add1" stroke="#74add1" stroke-width="0.7"/>
<path d="M703.2,326.5 L723.2,326.5 L735.6,329.8 L736.5,333.2 L746.4,346.5 L703.2,346.5Z" fill="#74add1" stroke="#74add1" stroke-width="0.7"/>
<path d="M699.9,329.2 L736.5,329.2 L746.4,340 L753.1,351.6 L749.8,359.9 L738.1,363.3 L736.5,365.7 L729.8,359.9 L726.5,351.6 L716.5,346.6 L709.9,348.3 L703.2,340Z" fill="#74add1" stroke="#74add1" stroke-width="0.7"/>
<path d="M735.6,329.2 L759.7,329.2 L768.1,335 L768.1,346.6 L763.1,352.4 L753.1,351.6 L746.4,340Z" fill="#4575b4" stroke="#4575b4" stroke-width="0.7"/>
<path d="M759.7,329.2 L794.7,329.2 L783,343.3 L776.4,350 L776.4,359.9 L766.4,363.3 L764.7,353.3 L768.1,346.6 L768.1,335Z" fill="#74add1" stroke="#74add1" stroke-width="0.7"/>
<path d="M737.3,363.3 L749.8,359.9 L753.1,351.6 L763.1,352.4 L764.7,353.3 L766.4,363.3 L768.9,368.2 L759.7,378.2 L749.8,378.2 L743.1,374.9 L740.6,367.4Z" fill="#abd9e9" stroke="#abd9e9" stroke-width="0.7"/>
<path d="M709,348.3 L716.5,346.6 L726.5,351.6 L729.8,359.9 L729.8,369.9 L723.2,374.1 L716.5,373.2 L712.4,359.9Z" fill="#fee090" stroke="#fee090" stroke-width="0.7"/>
<path d="M716.5,373.2 L723.2,374.1 L729.8,369.9 L729.8,365.7 L736.5,365.7 L740.6,367.4 L743.1,374.9 L749.8,378.2 L761.4,378.2 L749.8,389.9 L728.2,393.2 L719.8,384.9Z" fill="#fdae61" stroke="#fdae61" stroke-width="0.7"/>
</g>
<path d="M766.8,187.9 L769.9,194.9 L773.8,203.7 L776.6,210 L780.6,216.3 L781.5,222.6 L785.1,225.8 L788.2,233.7 L793.4,236.8 L799.5,243.2 L798.9,246.3 L803.5,249.8 L811.1,247.6 L823.9,245 L823.3,249.5 L820.3,257.4 L815.7,265.2 L809.6,273.1 L801.9,279.4 L795.8,285.8 L791.3,290.5 L788.2,296.8 L786.1,303.1 L788.2,309.4 L791.3,315.7 L791.3,326.8 L789.7,333.1 L780.6,339.4 L774.4,345.7 L776,355.2 L768.3,363.1 L767.7,369.4 L762.2,376.6 L754.6,385.2 L746.9,389.6 L736.3,390.5 L728.6,392.4 L723.7,390.5 L722.5,385.2 L719.4,377.3 L714.9,367.8 L711.8,355.2 L705.7,339.4 L703.6,333.1 L708.8,320.5 L708.8,312.6 L704.8,301.5 L703.6,296.8 L696.5,288.9 L695,284.2 L696.5,277.9 L697.1,271.6 L693.5,268.1 L688.9,268.7 L684.3,265.2 L680.6,262.7 L675.1,262.7 L670.6,264 L661.4,267.1 L653.7,266.2 L644.6,268.7 L638.5,265.2 L632.4,260.8 L627.2,255.1 L626.2,251.7 L621.7,247.9 L616.5,243.5 L614,236.2 L617.1,232.1 L617.7,222.6 L615.6,216.3 L618.6,208.4 L623.2,200.5 L627.8,194.9 L633.3,191.7 L637.6,188.6 L637.6,183.2 L641.5,177.5 L646.7,175 L649.5,169.6 L651.3,169.3 L658.3,171.2 L662.9,171.5 L669,169 L676.7,166.1 L684.3,166.5 L691.9,165.8 L698.1,164.9 L701.1,165.8 L700.2,170.6 L698.7,174.3 L701.1,176.9 L705.7,178.8 L713.9,180.7 L716.4,183.8 L722.5,186.3 L728,185.4 L728.9,180.7 L733.2,178.8 L738.4,180 L743.9,182.6 L750,183.8 L756.1,185.1 L760.7,183.2 L766.2,183.8Z" fill="none" stroke="#b6b6b6" stroke-width="1.6" stroke-linejoin="round"/>
<g clip-path="url(#c6)" shape-rendering="crispEdges">
<path d="M1014.8,352.4 L1021.7,348.4 L1029.6,346.5 L1039.4,343.5 L1042.4,336.6 L1045.3,331.7 L1051.3,327.7 L1057.2,326.8 L1063.1,330.7 L1065.1,323.8 L1069,319.9 L1076.9,318.9 L1084.8,320.8 L1086.8,326.8 L1082.8,331.7 L1088.7,337.6 L1094.6,340.6 L1098.6,333.7 L1099.6,323.8 L1102.5,316.9 L1105.5,320.8 L1107.5,326.8 L1112.4,335.6 L1120.3,345.5 L1128.2,353.4 L1133.1,360.3 L1136,365.2 L1137.4,375.1 L1135.1,382.9 L1131.1,390.8 L1127.2,398.7 L1122.2,401.7 L1118.3,403.1 L1109.4,404 L1102.5,401.7 L1098.6,399.7 L1093.7,393.8 L1089.7,387.9 L1087.7,394.8 L1085.2,389.9 L1082.8,387.9 L1074.9,383.9 L1069,382.6 L1063.1,382.2 L1055.2,383.9 L1047.3,385.9 L1037.5,387.9 L1029.6,391.8 L1023.7,391.8 L1019.7,388.9 L1018.7,379 L1016.8,373.1 L1014.8,367.2 L1013.4,359.3Z" fill="#e0f3f8"/>
<path d="M1037.5,344.5 L1042.4,333.7 L1057.2,324.8 L1062.3,328.7 L1062.3,348.4 L1053.2,348.4 L1052.2,344.5Z" fill="#74add1" stroke="#74add1" stroke-width="0.7"/>
<path d="M1027.6,347.5 L1037.5,344.5 L1052.2,344.5 L1053.2,348.4 L1062.3,348.4 L1062.3,356.3 L1031.5,356.3Z" fill="#abd9e9" stroke="#abd9e9" stroke-width="0.7"/>
<path d="M1017.7,369.1 L1027.6,369.1 L1029.6,375.1 L1035.1,378 L1035.1,387.9 L1029.6,393.8 L1017.7,391.8Z" fill="#74add1" stroke="#74add1" stroke-width="0.7"/>
<path d="M1035.1,378 L1062.3,378 L1062.3,388.9 L1035.1,388.9Z" fill="#ffffbf" stroke="#ffffbf" stroke-width="0.7"/>
<path d="M1062.3,316.9 L1089.1,316.9 L1089.1,364.2 L1062.3,364.2Z" fill="#abd9e9" stroke="#abd9e9" stroke-width="0.7"/>
<path d="M1062.3,364.2 L1098,364.2 L1098,377 L1088.7,376 L1089.7,383.3 L1062.3,383.3Z" fill="#fee090" stroke="#fee090" stroke-width="0.7"/>
<path d="M1074.9,383.3 L1089.7,383.3 L1088.7,376 L1098,377 L1098.6,387.9 L1109.4,394.8 L1124.2,398.7 L1126.2,404.6 L1086.8,404.6 L1078.9,388.9Z" fill="#abd9e9" stroke="#abd9e9" stroke-width="0.7"/>
<path d="M1089.1,339.6 L1102.5,343.5 L1108,352.4 L1098,359.3 L1098,364.2 L1089.1,364.2Z" fill="#74add1" stroke="#74add1" stroke-width="0.7"/>
<path d="M1098.6,387.9 L1110.4,385.5 L1118.3,384.5 L1131.1,386.9 L1124.6,399.1 L1109.4,394.8Z" fill="#74add1" stroke="#74add1" stroke-width="0.7"/>
</g>
<path d="M1014.8,352.4 L1021.7,348.4 L1029.6,346.5 L1039.4,343.5 L1042.4,336.6 L1045.3,331.7 L1051.3,327.7 L1057.2,326.8 L1063.1,330.7 L1065.1,323.8 L1069,319.9 L1076.9,318.9 L1084.8,320.8 L1086.8,326.8 L1082.8,331.7 L1088.7,337.6 L1094.6,340.6 L1098.6,333.7 L1099.6,323.8 L1102.5,316.9 L1105.5,320.8 L1107.5,326.8 L1112.4,335.6 L1120.3,345.5 L1128.2,353.4 L1133.1,360.3 L1136,365.2 L1137.4,375.1 L1135.1,382.9 L1131.1,390.8 L1127.2,398.7 L1122.2,401.7 L1118.3,403.1 L1109.4,404 L1102.5,401.7 L1098.6,399.7 L1093.7,393.8 L1089.7,387.9 L1087.7,394.8 L1085.2,389.9 L1082.8,387.9 L1074.9,383.9 L1069,382.6 L1063.1,382.2 L1055.2,383.9 L1047.3,385.9 L1037.5,387.9 L1029.6,391.8 L1023.7,391.8 L1019.7,388.9 L1018.7,379 L1016.8,373.1 L1014.8,367.2 L1013.4,359.3Z" fill="none" stroke="#b6b6b6" stroke-width="1.6" stroke-linejoin="round"/>
<path d="M386.4,134.9 L392.5,131.7 L398.6,128.6 L404.7,131.7 L408.7,134.6 L403.2,135.8 L397.1,134.3 L391,135.2Z" fill="none" stroke="#b6b6b6" stroke-width="1.6" stroke-linejoin="round"/>
<path d="M398.6,138.1 L403.2,137.4 L407.8,138.1 L404.1,143.7 L403.2,150 L399.8,151 L399.2,145.3Z" fill="none" stroke="#b6b6b6" stroke-width="1.6" stroke-linejoin="round"/>
<path d="M409.3,137.4 L418.5,137.4 L423.1,141.2 L417.9,146.3 L415.4,146.3 L412.4,143.1 L413,139.9Z" fill="none" stroke="#b6b6b6" stroke-width="1.6" stroke-linejoin="round"/>
<path d="M413,150.7 L420,148.2 L426.1,147.2 L426.1,148.5 L418.5,151.6Z" fill="#b6b6b6" stroke="#b6b6b6" stroke-width="1.6" stroke-linejoin="round"/>
<path d="M424,145.9 L432.2,145.9 L434.4,143.7 L429.2,144.1Z" fill="#b6b6b6" stroke="#b6b6b6" stroke-width="1.6" stroke-linejoin="round"/>
<path d="M287.1,74.3 L297.8,71.1 L306.9,71.8 L305.4,76.5 L294.7,76.8Z" fill="none" stroke="#b6b6b6" stroke-width="1.6" stroke-linejoin="round"/>
<path d="M310,89.5 L319.2,86 L332.9,84.4 L328.3,87.6 L316.1,90.4Z" fill="none" stroke="#b6b6b6" stroke-width="1.6" stroke-linejoin="round"/>
<path d="M365,112.8 L369.6,113.8 L373.2,121.6 L371.1,123.9 L366.5,118.5Z" fill="none" stroke="#b6b6b6" stroke-width="1.6" stroke-linejoin="round"/>
<path d="M326.8,97.7 L334.4,94.8 L343.6,95.4 L334.4,97Z" fill="#b6b6b6" stroke="#b6b6b6" stroke-width="1.6" stroke-linejoin="round"/>
<path d="M984.7,120.1 L989.9,119.8 L997.5,115.3 L1003,107.1 L1001.2,106.5 L995.1,113.4 L988.3,117.5Z" fill="#b6b6b6" stroke="#b6b6b6" stroke-width="1.6" stroke-linejoin="round"/>
<path d="M892.1,139 L895.1,135.2 L902.8,134.9 L909.5,135.5 L908.9,136.8 L899.7,136.8 L895.1,139.6Z" fill="#b6b6b6" stroke="#b6b6b6" stroke-width="1.6" stroke-linejoin="round"/>
<path d="M764.7,281.7 L771.4,281.7 L772,287.3 L768.3,291.4 L764.7,288.9Z" fill="none" stroke="#b6b6b6" stroke-width="1.6" stroke-linejoin="round"/>
<path d="M756.7,293.3 L758.9,296.8 L761.6,304.7 L762.8,310.1 L760.7,308.8 L757.9,302.2 L756.4,295.9Z" fill="#b6b6b6" stroke="#b6b6b6" stroke-width="1.6" stroke-linejoin="round"/>
<path d="M771.1,312.9 L773.5,317.3 L775.1,325.2 L774.4,328.4 L772.6,325.2 L771.7,318.9Z" fill="#b6b6b6" stroke="#b6b6b6" stroke-width="1.6" stroke-linejoin="round"/>
<path d="M708.8,239.4 L712.4,239.4 L712.4,242.8 L709.4,243.2Z" fill="#b6b6b6" stroke="#b6b6b6" stroke-width="1.6" stroke-linejoin="round"/>
<path d="M760.7,88.2 L766.8,90.1 L767.7,92.3 L762.2,93.6 L759.2,91.7Z" fill="#b6b6b6" stroke="#b6b6b6" stroke-width="1.6" stroke-linejoin="round"/>
<path d="M772.9,85 L778.1,86.9 L776,90.4 L772.9,88.5Z" fill="#b6b6b6" stroke="#b6b6b6" stroke-width="1.6" stroke-linejoin="round"/>
<path d="M285.6,55.4 L291.7,48.1 L306.9,48.4 L313.1,52.2 L300.8,56.9 L288.6,56.9Z" fill="#f46d43" stroke="#b6b6b6" stroke-width="2.3" stroke-linejoin="round"/>
<path d="M306.9,56.9 L310,52.2 L325.3,52.2 L337.5,51.3 L346.7,52.2 L357.4,56.9 L355.8,63.3 L346.7,65.5 L331.4,65.8 L319.2,63.9 L310,61.7Z" fill="#f46d43" stroke="#b6b6b6" stroke-width="2.3" stroke-linejoin="round"/>
<path d="M310,44.3 L322.2,41.2 L337.5,41.2 L345.1,44.3 L337.5,46.8 L322.2,47.5Z" fill="#f46d43" stroke="#b6b6b6" stroke-width="2.3" stroke-linejoin="round"/>
<path d="M349.7,41.2 L361.9,39.6 L371.1,42.7 L366.5,45.9 L355.8,45.9Z" fill="#f46d43" stroke="#b6b6b6" stroke-width="2.3" stroke-linejoin="round"/>
<path d="M355.8,50.6 L365,49.1 L371.1,53.8 L365,57.6 L355.8,55.4Z" fill="#f46d43" stroke="#b6b6b6" stroke-width="2.3" stroke-linejoin="round"/>
<path d="M374.2,49.1 L383.3,49.1 L391,50.6 L386.4,55.4 L375.7,54.7Z" fill="#f46d43" stroke="#b6b6b6" stroke-width="2.3" stroke-linejoin="round"/>
<path d="M374.2,40.5 L392.5,40.2 L416.9,43.4 L423.1,46.8 L398.6,47.2 L384.9,45.9Z" fill="#f46d43" stroke="#b6b6b6" stroke-width="2.3" stroke-linejoin="round"/>
<path d="M392.5,28.5 L398.6,23.8 L438.3,20.3 L478.1,21.9 L471.9,26 L453.6,30.1 L438.3,33.3 L429.2,39.6 L416.9,41.2 L398.6,40.5 L407.8,36.4 L398.6,33.3Z" fill="#f46d43" stroke="#b6b6b6" stroke-width="2.3" stroke-linejoin="round"/>
<path d="M375.7,29.2 L389.4,26.3 L400.1,28.5 L400.1,33.3 L389.4,35.5 L378.7,32.3Z" fill="#f46d43" stroke="#b6b6b6" stroke-width="2.3" stroke-linejoin="round"/>
<path d="M392.5,49.7 L404.7,49.7 L420,50.6 L432.2,52.8 L447.5,56.9 L459.7,60.7 L471.9,69.6 L479.6,71.8 L473.5,77.5 L468.9,83.8 L464.3,86.9 L453.6,84.4 L442.9,79.7 L430.7,79.7 L432.2,75.9 L442.9,74.3 L444.4,68 L432.2,61.7 L423.1,61.7 L407.8,60.1 L395.6,58.5Z" fill="#f46d43" stroke="#b6b6b6" stroke-width="2.3" stroke-linejoin="round"/>
<path d="M401.7,75.9 L409.3,74.3 L420,79 L421.5,82.2 L410.8,83.8 L403.2,80.6Z" fill="#f46d43" stroke="#b6b6b6" stroke-width="2.3" stroke-linejoin="round"/>
<path d="M486.3,131.7 L491.8,123.2 L497.3,120.1 L497.9,124.8 L504,127 L505.6,129.5 L506.5,132.7 L504,135.5 L499.4,134.3 L496.4,132.7Z" fill="#fdae61" stroke="#b6b6b6" stroke-width="1.5" stroke-linejoin="round"/>
<path d="M275.5,122.6 L284,123.9 L290.1,128.9 L290.1,130.2 L285.6,129.2 L279.4,126.1Z" fill="#f46d43" stroke="#b6b6b6" stroke-width="1.5" stroke-linejoin="round"/>
<path d="M592.6,75.9 L600.3,73 L612.5,73.4 L621.7,73.7 L625.9,77.5 L621.7,79.7 L611,82.5 L600.3,81.2 L598.7,78.7Z" fill="#f46d43" stroke="#b6b6b6" stroke-width="1.5" stroke-linejoin="round"/>
<path d="M408.1,213.5 L413.9,210 L421.5,209.7 L430.7,214.1 L438.3,217.3 L440.8,218.8 L438.3,219.8 L430.1,219.8 L427.6,214.7 L420,213.2 L415.4,211.6Z" fill="#ffffbf" stroke="#b6b6b6" stroke-width="1.5" stroke-linejoin="round"/>
<path d="M440.2,224.5 L444.4,219.8 L448.4,220.1 L453.6,220.4 L458.5,223.9 L453.6,225.2 L449,226.7 L444.4,225.2Z" fill="#ffffbf" stroke="#b6b6b6" stroke-width="1.5" stroke-linejoin="round"/>
<path d="M428.2,224.5 L434.4,224.8 L434.4,226.1 L428.2,225.8Z" fill="#b6b6b6" stroke="#b6b6b6" stroke-width="1"/>
<path d="M462.2,224.2 L466.7,224.5 L466.7,225.8 L462.2,225.8Z" fill="#b6b6b6" stroke="#b6b6b6" stroke-width="1"/>
<path d="M481.1,444.5 L490.3,444.5 L490.3,447.3 L481.1,447.3Z" fill="#b6b6b6" stroke="#b6b6b6" stroke-width="1"/>
<path d="M650.1,124.8 L656.8,123.9 L663.8,122.6 L671.8,120.7 L669.9,119.4 L672.7,116.3 L668.4,115.3 L667.2,112.2 L662.9,109 L661.4,105.9 L658.9,105.2 L661.4,101.1 L656.8,100.5 L658,97.7 L652.2,97.7 L649.8,101.1 L648.6,104.3 L651.6,107.4 L652.8,109.7 L656.8,109.7 L658.3,112.8 L657.7,114.4 L653.7,114.4 L654.7,117.5 L651.6,119.1 L657.7,120.4 L653.7,121.6Z" fill="#f46d43" stroke="#b6b6b6" stroke-width="1.5" stroke-linejoin="round"/>
<path d="M648.6,114.1 L649.2,110.6 L646.1,108.1 L642.1,109 L636.9,111.5 L637.6,114.4 L636,118.5 L638.5,120.1 L643.1,119.4 L648.2,117.9Z" fill="#f46d43" stroke="#b6b6b6" stroke-width="1.5" stroke-linejoin="round"/>
<path d="M705.7,162.7 L715.2,161.7 L713.6,166.8 L705.7,163.9Z" fill="#f46d43" stroke="#b6b6b6" stroke-width="1.5" stroke-linejoin="round"/>
<path d="M692.6,153.2 L697.1,152.6 L696.8,158.9 L693.2,159.5Z" fill="#f46d43" stroke="#b6b6b6" stroke-width="1.5" stroke-linejoin="round"/>
<path d="M693.8,147.2 L696.5,147.2 L695.9,151.9 L694.1,150.7Z" fill="#f46d43" stroke="#b6b6b6" stroke-width="1.5" stroke-linejoin="round"/>
<path d="M739.3,170.2 L747.9,171.2 L742.4,172.5Z" fill="#b6b6b6" stroke="#b6b6b6" stroke-width="1"/>
<path d="M766.2,171.8 L773.2,169.9 L769.9,173.4Z" fill="#b6b6b6" stroke="#b6b6b6" stroke-width="1"/>
<path d="M692.3,108.7 L699.6,108.1 L700.5,104.6 L699.6,100.5 L692.3,102.7Z" fill="#4575b4" stroke="#b6b6b6" stroke-width="1.5" stroke-linejoin="round"/>
<path d="M701.1,108.4 L706,108.4 L705.7,105.5 L701.1,106.2Z" fill="#4575b4" stroke="#b6b6b6" stroke-width="1.5" stroke-linejoin="round"/>
<path d="M701.1,31.7 L710.3,30.1 L728.6,28.5 L750,29.5 L734.7,34.9 L725.6,39.6 L717.9,40.9 L710.3,38 L702.6,34.2Z" fill="#f46d43" stroke="#b6b6b6" stroke-width="1.5" stroke-linejoin="round"/>
<path d="M824.9,56.9 L829.4,52.8 L838.6,47.5 L850.8,42.7 L869.2,39.6 L878.3,40.2 L869.2,42.7 L850.8,45.9 L843.2,50.6 L838.6,55.4 L843.2,59.5 L834,59.5 L826.4,58.5Z" fill="#ffffbf" stroke="#b6b6b6" stroke-width="1.5" stroke-linejoin="round"/>
<path d="M957.8,33.3 L973.1,27 L988.3,30.8 L985.3,35.8 L966.9,36.4Z" fill="#fdae61" stroke="#b6b6b6" stroke-width="1.5" stroke-linejoin="round"/>
<path d="M1086.1,44.3 L1095.3,42.1 L1113.6,44.3 L1125.8,45 L1119.7,46.5 L1095.3,46.8 L1086.1,46.5Z" fill="#fdae61" stroke="#b6b6b6" stroke-width="1.5" stroke-linejoin="round"/>
<path d="M805,28.5 L826.4,27 L850.8,26 L866.1,27.6 L844.7,29.5 L814.2,30.1Z" fill="#b6b6b6" stroke="#b6b6b6" stroke-width="1"/>
<path d="M1213.5,57.9 L1217.5,56.9 L1217.5,59.2 L1213.5,59.2Z" fill="#b6b6b6" stroke="#b6b6b6" stroke-width="1"/>
<path d="M117.5,65.5 L125,68 L135,70.5 L147.5,74 L140,76 L134,79 L128,77.5 L117.5,76.5Z" fill="#fdae61" stroke="#b6b6b6" stroke-width="1.5" stroke-linejoin="round"/>
<path d="M1094.7,148.5 L1100.5,139.3 L1104.5,142.8 L1111.5,145.9 L1106,150 L1099.3,148.8 L1096.2,151.6Z" fill="#ffffbf" stroke="#b6b6b6" stroke-width="1.5" stroke-linejoin="round"/>
<path d="M1099.6,151.9 L1101.1,157.9 L1098.3,162.7 L1097.7,169 L1095,171.5 L1090.7,173.1 L1086.1,173.4 L1082.5,176.9 L1080,173.4 L1072.4,174.3 L1067.5,175.3 L1069.3,173.1 L1073,170.6 L1078.5,170.2 L1083.1,169 L1085.5,164.9 L1090.7,164.6 L1093.8,161.1 L1095.3,156.4 L1096.2,152.6Z" fill="#ffffbf" stroke="#b6b6b6" stroke-width="1.5" stroke-linejoin="round"/>
<path d="M1072.4,175.6 L1078.5,174.3 L1077.9,176.9 L1073.9,179.1Z" fill="#ffffbf" stroke="#b6b6b6" stroke-width="1.5" stroke-linejoin="round"/>
<path d="M1064.7,176.9 L1069.3,176.2 L1070.8,179.1 L1067.8,184.1 L1065.3,183.8 L1064.1,179.4Z" fill="#ffffbf" stroke="#b6b6b6" stroke-width="1.5" stroke-linejoin="round"/>
<path d="M1102,110.9 L1105.4,114.7 L1107.5,124.8 L1105.4,128.6 L1106.9,135.5 L1102.3,137.7 L1100.8,131.1 L1101.1,123.2 L1099.9,116.9Z" fill="#fdae61" stroke="#b6b6b6" stroke-width="1.5" stroke-linejoin="round"/>
<path d="M1037.2,203.1 L1040.3,203.7 L1038.8,208.4 L1036.6,213.2 L1034.5,210 L1035.1,205.9Z" fill="#abd9e9" stroke="#b6b6b6" stroke-width="1.5" stroke-linejoin="round"/>
<path d="M999.6,221.7 L1005.1,219.2 L1006.7,221.1 L1003.6,224.8 L999.6,224.2Z" fill="#fee090" stroke="#b6b6b6" stroke-width="1.5" stroke-linejoin="round"/>
<path d="M911.3,252 L914.4,254.2 L917.4,258.9 L915.9,262.7 L912.6,264 L911,258.9Z" fill="#abd9e9" stroke="#b6b6b6" stroke-width="1.5" stroke-linejoin="round"/>
<path d="M818.1,320.5 L821.2,331.5 L818.8,337.8 L814.2,352 L811.1,361.5 L805,363.1 L800.4,356.8 L800.4,350.5 L803.5,344.1 L801.9,336.3 L808.1,332.5 L814.2,325.2Z" fill="#ffffbf" stroke="#b6b6b6" stroke-width="1.5" stroke-linejoin="round"/>
<path d="M958.4,264.9 L965.4,265.9 L969.1,269.7 L974.6,273.8 L979.2,277.2 L984.1,280.7 L986.5,285.8 L990.2,289.9 L992.3,293 L991.1,301.2 L986.5,300.9 L979.8,295.5 L975.2,289.2 L969.7,281.3 L964.2,275Z" fill="#abd9e9" stroke="#b6b6b6" stroke-width="1.5" stroke-linejoin="round"/>
<path d="M989.3,303.1 L993.8,301.5 L999,303.1 L1006.1,302.8 L1012.2,304.4 L1017.4,307.2 L1017.1,309.7 L1006.7,308.8 L997.5,307.2 L992.6,306Z" fill="#ffffbf" stroke="#b6b6b6" stroke-width="1.5" stroke-linejoin="round"/>
<path d="M1001.2,276.3 L1006.7,277.6 L1012.8,272.5 L1018.9,266.8 L1024.4,260.5 L1027.1,262.7 L1031.1,266.2 L1027.4,269.3 L1028.1,275.3 L1031.1,279.4 L1027.1,280.4 L1026.5,285.1 L1023.5,289.9 L1021.9,294.6 L1017.4,295.5 L1012.8,292.7 L1008.8,293.3 L1004.2,291.8 L1003.6,287.3 L1000.6,283.2 L1000.6,279.4Z" fill="#fdae61" stroke="#b6b6b6" stroke-width="1.5" stroke-linejoin="round"/>
<path d="M1033.6,280.1 L1037.2,278.5 L1043.3,279.8 L1049.5,277.6 L1047.9,281.3 L1038.8,281 L1035.1,285.4 L1039.7,285.4 L1044.3,285.1 L1040.3,288.3 L1042.7,295.2 L1041.2,299.3 L1038.1,293.6 L1036.6,291.1 L1035.4,300 L1032.6,300 L1032.6,293.6 L1030.8,291.1 L1033.3,284.2Z" fill="#ffffbf" stroke="#b6b6b6" stroke-width="1.5" stroke-linejoin="round"/>
<path d="M1067.8,285.1 L1072.4,283.9 L1077,285.1 L1077.6,290.5 L1081.5,293 L1088.6,287.3 L1098.3,290.8 L1109,294.6 L1113.6,300 L1119.1,302.2 L1117.3,305.6 L1122.8,311 L1128.3,315.1 L1119.7,314.8 L1115.1,310.4 L1109,306.9 L1104.5,310.1 L1098.3,311.3 L1092.2,307.8 L1089.2,308.8 L1091.6,304.1 L1087.6,299 L1080,296.5 L1073.9,295.2 L1073.3,291.8 L1069.3,290.5Z" fill="#e0f3f8" stroke="#b6b6b6" stroke-width="1.5" stroke-linejoin="round"/>
<path d="M1035.7,224.2 L1040.9,224.2 L1041.2,230.5 L1038.8,236.8 L1046.4,241.6 L1046.4,243.2 L1041.8,239.7 L1037.2,239.4 L1035.7,236.8 L1033.9,231.2Z" fill="#ffffbf" stroke="#b6b6b6" stroke-width="1.5" stroke-linejoin="round"/>
<path d="M1040.3,260.5 L1044.9,255.1 L1051,251.7 L1054,258.9 L1051,263.7 L1047.9,263 L1046.4,259.9Z" fill="#ffffbf" stroke="#b6b6b6" stroke-width="1.5" stroke-linejoin="round"/>
<path d="M1040.3,246.3 L1044.9,246.3 L1051,247.9 L1049.5,251 L1043.3,252.6 L1040.3,249.5Z" fill="#b6b6b6" stroke="#b6b6b6" stroke-width="1"/>
<path d="M1025.6,256.1 L1032.6,246.9 L1033.3,249.5 L1026.8,256.4Z" fill="#b6b6b6" stroke="#b6b6b6" stroke-width="1"/>
<path d="M1195.2,391.2 L1200.1,394 L1203.8,397.8 L1205.3,401.3 L1212.9,401.6 L1211.1,406.3 L1208.3,407.3 L1207.7,410.4 L1203.1,413.9 L1201.3,412.9 L1202.2,408.8 L1198.6,406.9 L1201,402.5 L1201.6,399.4 L1199.2,396.2Z" fill="#fdae61" stroke="#b6b6b6" stroke-width="1.5" stroke-linejoin="round"/>
<path d="M1195.2,410.4 L1200.1,412.6 L1196.1,418.3 L1195.2,420.8 L1190.6,422.4 L1189.1,427.5 L1183.9,429.7 L1179.3,428.4 L1176.3,426.8 L1181.8,421.5 L1188.5,417.7 L1193.1,412Z" fill="#fdae61" stroke="#b6b6b6" stroke-width="1.5" stroke-linejoin="round"/>
<path d="M1109.6,411 L1120.3,411.4 L1120.6,415.8 L1116.7,420.2 L1113.6,419.9 L1111.2,415.8Z" fill="#e0f3f8" stroke="#b6b6b6" stroke-width="1.5" stroke-linejoin="round"/>
<path d="M157.6,111.7 L159.9,111.7 L159.9,113.9 L157.6,113.9Z" fill="#b6b6b6" stroke="#b6b6b6" stroke-width="1"/>
<path d="M152.1,113.3 L154.4,113.3 L154.4,115.5 L152.1,115.5Z" fill="#b6b6b6" stroke="#b6b6b6" stroke-width="1"/>
<path d="M145.4,115.2 L147.6,115.2 L147.6,117.4 L145.4,117.4Z" fill="#b6b6b6" stroke="#b6b6b6" stroke-width="1"/>
<path d="M134.7,116.8 L136.9,116.8 L136.9,118.9 L134.7,118.9Z" fill="#b6b6b6" stroke="#b6b6b6" stroke-width="1"/>
<path d="M126.5,118 L128.7,118 L128.7,120.2 L126.5,120.2Z" fill="#b6b6b6" stroke="#b6b6b6" stroke-width="1"/>
<path d="M122.5,118.3 L124.7,118.3 L124.7,120.5 L122.5,120.5Z" fill="#b6b6b6" stroke="#b6b6b6" stroke-width="1"/>
<path d="M198,100.4 L200.2,100.4 L200.2,102.5 L198,102.5Z" fill="#b6b6b6" stroke="#b6b6b6" stroke-width="1"/>
<path d="M200.4,98.8 L202.6,98.8 L202.6,101 L200.4,101Z" fill="#b6b6b6" stroke="#b6b6b6" stroke-width="1"/>
<path d="M191.4,219.9 L193.3,219.9 L193.3,221.6 L191.4,221.6Z" fill="#b6b6b6" stroke="#b6b6b6" stroke-width="1"/>
<path d="M188.7,216.1 L190.5,216.1 L190.5,217.8 L188.7,217.8Z" fill="#b6b6b6" stroke="#b6b6b6" stroke-width="1"/>
<path d="M184.1,213.9 L185.9,213.9 L185.9,215.6 L184.1,215.6Z" fill="#b6b6b6" stroke="#b6b6b6" stroke-width="1"/>
<path d="M179.2,212.3 L181,212.3 L181,214.1 L179.2,214.1Z" fill="#b6b6b6" stroke="#b6b6b6" stroke-width="1"/>
<path d="M427.7,197.9 L429.4,197.9 L429.4,199.4 L427.7,199.4Z" fill="#b6b6b6" stroke="#b6b6b6" stroke-width="1"/>
<path d="M429.9,202.9 L431.5,202.9 L431.5,204.5 L429.9,204.5Z" fill="#b6b6b6" stroke="#b6b6b6" stroke-width="1"/>
<path d="M433.8,204.8 L435.5,204.8 L435.5,206.4 L433.8,206.4Z" fill="#b6b6b6" stroke="#b6b6b6" stroke-width="1"/>
<path d="M436.6,208.3 L438.2,208.3 L438.2,209.9 L436.6,209.9Z" fill="#b6b6b6" stroke="#b6b6b6" stroke-width="1"/>
<path d="M442.1,215.5 L443.7,215.5 L443.7,217.1 L442.1,217.1Z" fill="#b6b6b6" stroke="#b6b6b6" stroke-width="1"/>
<path d="M428.3,205.1 L430,205.1 L430,206.7 L428.3,206.7Z" fill="#b6b6b6" stroke="#b6b6b6" stroke-width="1"/>
<path d="M429,200.4 L430.6,200.4 L430.6,202 L429,202Z" fill="#b6b6b6" stroke="#b6b6b6" stroke-width="1"/>
<path d="M478.8,230.7 L480.4,230.7 L480.4,232.3 L478.8,232.3Z" fill="#b6b6b6" stroke="#b6b6b6" stroke-width="1"/>
<path d="M480.3,235.4 L481.9,235.4 L481.9,237 L480.3,237Z" fill="#b6b6b6" stroke="#b6b6b6" stroke-width="1"/>
<path d="M480.3,237.9 L481.9,237.9 L481.9,239.5 L480.3,239.5Z" fill="#b6b6b6" stroke="#b6b6b6" stroke-width="1"/>
<path d="M479.4,243 L481,243 L481,244.6 L479.4,244.6Z" fill="#b6b6b6" stroke="#b6b6b6" stroke-width="1"/>
<path d="M479.4,248.7 L481,248.7 L481,250.3 L479.4,250.3Z" fill="#b6b6b6" stroke="#b6b6b6" stroke-width="1"/>
<path d="M474.8,227.2 L476.4,227.2 L476.4,228.8 L474.8,228.8Z" fill="#b6b6b6" stroke="#b6b6b6" stroke-width="1"/>
<path d="M484.6,240.2 L486.2,240.2 L486.2,241.7 L484.6,241.7Z" fill="#b6b6b6" stroke="#b6b6b6" stroke-width="1"/>
<path d="M616.3,192.5 L617.9,192.5 L617.9,194.1 L616.3,194.1Z" fill="#b6b6b6" stroke="#b6b6b6" stroke-width="1"/>
<path d="M619.3,193.4 L621,193.4 L621,195 L619.3,195Z" fill="#b6b6b6" stroke="#b6b6b6" stroke-width="1"/>
<path d="M623.9,191.9 L625.5,191.9 L625.5,193.4 L623.9,193.4Z" fill="#b6b6b6" stroke="#b6b6b6" stroke-width="1"/>
<path d="M612,191.2 L613.6,191.2 L613.6,192.8 L612,192.8Z" fill="#b6b6b6" stroke="#b6b6b6" stroke-width="1"/>
<path d="M594.6,234.2 L596.2,234.2 L596.2,235.7 L594.6,235.7Z" fill="#b6b6b6" stroke="#b6b6b6" stroke-width="1"/>
<path d="M592.4,229.4 L594.1,229.4 L594.1,231 L592.4,231Z" fill="#b6b6b6" stroke="#b6b6b6" stroke-width="1"/>
<path d="M615,178.6 L616.7,178.6 L616.7,180.2 L615,180.2Z" fill="#b6b6b6" stroke="#b6b6b6" stroke-width="1"/>
<path d="M588.8,162.5 L590.4,162.5 L590.4,164.1 L588.8,164.1Z" fill="#b6b6b6" stroke="#b6b6b6" stroke-width="1"/>
<path d="M579.6,160.3 L581.2,160.3 L581.2,161.9 L579.6,161.9Z" fill="#b6b6b6" stroke="#b6b6b6" stroke-width="1"/>
<path d="M1136.9,128.7 L1138.6,128.7 L1138.6,130.3 L1136.9,130.3Z" fill="#b6b6b6" stroke="#b6b6b6" stroke-width="1"/>
<path d="M1131.7,132.8 L1133.4,132.8 L1133.4,134.4 L1131.7,134.4Z" fill="#b6b6b6" stroke="#b6b6b6" stroke-width="1"/>
<path d="M1125,136.6 L1126.7,136.6 L1126.7,138.2 L1125,138.2Z" fill="#b6b6b6" stroke="#b6b6b6" stroke-width="1"/>
<path d="M1118.3,139.8 L1119.9,139.8 L1119.9,141.4 L1118.3,141.4Z" fill="#b6b6b6" stroke="#b6b6b6" stroke-width="1"/>
<path d="M1112.8,142 L1114.4,142 L1114.4,143.6 L1112.8,143.6Z" fill="#b6b6b6" stroke="#b6b6b6" stroke-width="1"/>
<path d="M1142.1,123.1 L1143.8,123.1 L1143.8,124.6 L1142.1,124.6Z" fill="#b6b6b6" stroke="#b6b6b6" stroke-width="1"/>
<path d="M1018.5,308.1 L1020.5,308.1 L1020.5,310.1 L1018.5,310.1Z" fill="#b6b6b6" stroke="#b6b6b6" stroke-width="1"/>
<path d="M1021.8,308.8 L1023.9,308.8 L1023.9,310.7 L1021.8,310.7Z" fill="#b6b6b6" stroke="#b6b6b6" stroke-width="1"/>
<path d="M1026.4,308.4 L1028.5,308.4 L1028.5,310.4 L1026.4,310.4Z" fill="#b6b6b6" stroke="#b6b6b6" stroke-width="1"/>
<path d="M1030.7,308.8 L1032.7,308.8 L1032.7,310.7 L1030.7,310.7Z" fill="#b6b6b6" stroke="#b6b6b6" stroke-width="1"/>
<path d="M1034.7,308.8 L1036.7,308.8 L1036.7,310.7 L1034.7,310.7Z" fill="#b6b6b6" stroke="#b6b6b6" stroke-width="1"/>
<path d="M1038.7,308.8 L1040.7,308.8 L1040.7,310.7 L1038.7,310.7Z" fill="#b6b6b6" stroke="#b6b6b6" stroke-width="1"/>
<path d="M1042.3,308.1 L1044.4,308.1 L1044.4,310.1 L1042.3,310.1Z" fill="#b6b6b6" stroke="#b6b6b6" stroke-width="1"/>
<path d="M1046.9,307.8 L1048.9,307.8 L1048.9,309.8 L1046.9,309.8Z" fill="#b6b6b6" stroke="#b6b6b6" stroke-width="1"/>
<path d="M1033.2,312.5 L1035.2,312.5 L1035.2,314.5 L1033.2,314.5Z" fill="#b6b6b6" stroke="#b6b6b6" stroke-width="1"/>
<path d="M1053,306.9 L1055.1,306.9 L1055.1,308.8 L1053,308.8Z" fill="#b6b6b6" stroke="#b6b6b6" stroke-width="1"/>
<path d="M1057,291.7 L1059,291.7 L1059,293.7 L1057,293.7Z" fill="#b6b6b6" stroke="#b6b6b6" stroke-width="1"/>
<path d="M1062.2,291.7 L1064.2,291.7 L1064.2,293.7 L1062.2,293.7Z" fill="#b6b6b6" stroke="#b6b6b6" stroke-width="1"/>
<path d="M1057.3,279.1 L1059.3,279.1 L1059.3,281.1 L1057.3,281.1Z" fill="#b6b6b6" stroke="#b6b6b6" stroke-width="1"/>
<path d="M1058.2,275.9 L1060.2,275.9 L1060.2,277.9 L1058.2,277.9Z" fill="#b6b6b6" stroke="#b6b6b6" stroke-width="1"/>
<path d="M1052.1,292 L1054.1,292 L1054.1,294 L1052.1,294Z" fill="#b6b6b6" stroke="#b6b6b6" stroke-width="1"/>
<path d="M1066.2,305.9 L1068.2,305.9 L1068.2,307.9 L1066.2,307.9Z" fill="#b6b6b6" stroke="#b6b6b6" stroke-width="1"/>
<path d="M1077.2,301.2 L1079.2,301.2 L1079.2,303.2 L1077.2,303.2Z" fill="#b6b6b6" stroke="#b6b6b6" stroke-width="1"/>
<path d="M1057.6,286.7 L1059.6,286.7 L1059.6,288.6 L1057.6,288.6Z" fill="#b6b6b6" stroke="#b6b6b6" stroke-width="1"/>
<path d="M1068.3,305.3 L1070.3,305.3 L1070.3,307.3 L1068.3,307.3Z" fill="#b6b6b6" stroke="#b6b6b6" stroke-width="1"/>
<path d="M1126.3,299.6 L1128.4,299.6 L1128.4,301.6 L1126.3,301.6Z" fill="#b6b6b6" stroke="#b6b6b6" stroke-width="1"/>
<path d="M1130,297.4 L1132.1,297.4 L1132.1,299.4 L1130,299.4Z" fill="#b6b6b6" stroke="#b6b6b6" stroke-width="1"/>
<path d="M1131.5,295.2 L1133.6,295.2 L1133.6,297.2 L1131.5,297.2Z" fill="#b6b6b6" stroke="#b6b6b6" stroke-width="1"/>
<path d="M1130.9,292 L1133,292 L1133,294 L1130.9,294Z" fill="#b6b6b6" stroke="#b6b6b6" stroke-width="1"/>
<path d="M1115.7,287.9 L1117.7,287.9 L1117.7,289.9 L1115.7,289.9Z" fill="#b6b6b6" stroke="#b6b6b6" stroke-width="1"/>
<path d="M1141,300.5 L1143.1,300.5 L1143.1,302.5 L1141,302.5Z" fill="#b6b6b6" stroke="#b6b6b6" stroke-width="1"/>
<path d="M1146.2,304.7 L1148.2,304.7 L1148.2,306.6 L1146.2,306.6Z" fill="#b6b6b6" stroke="#b6b6b6" stroke-width="1"/>
<path d="M1150.8,306.9 L1152.8,306.9 L1152.8,308.8 L1150.8,308.8Z" fill="#b6b6b6" stroke="#b6b6b6" stroke-width="1"/>
<path d="M1154.8,311.6 L1156.8,311.6 L1156.8,313.6 L1154.8,313.6Z" fill="#b6b6b6" stroke="#b6b6b6" stroke-width="1"/>
<path d="M1157.8,309.4 L1159.9,309.4 L1159.9,311.4 L1157.8,311.4Z" fill="#b6b6b6" stroke="#b6b6b6" stroke-width="1"/>
<path d="M1160,314.1 L1162,314.1 L1162,316.1 L1160,316.1Z" fill="#b6b6b6" stroke="#b6b6b6" stroke-width="1"/>
<path d="M1176.2,329.9 L1178.2,329.9 L1178.2,331.9 L1176.2,331.9Z" fill="#b6b6b6" stroke="#b6b6b6" stroke-width="1"/>
<path d="M1177.7,333.1 L1179.7,333.1 L1179.7,335 L1177.7,335Z" fill="#b6b6b6" stroke="#b6b6b6" stroke-width="1"/>
<path d="M1180.7,337.5 L1182.8,337.5 L1182.8,339.4 L1180.7,339.4Z" fill="#b6b6b6" stroke="#b6b6b6" stroke-width="1"/>
<path d="M1183.8,342.5 L1185.8,342.5 L1185.8,344.5 L1183.8,344.5Z" fill="#b6b6b6" stroke="#b6b6b6" stroke-width="1"/>
<path d="M1170.7,347.9 L1172.7,347.9 L1172.7,349.9 L1170.7,349.9Z" fill="#b6b6b6" stroke="#b6b6b6" stroke-width="1"/>
<path d="M1173.1,349.8 L1175.1,349.8 L1175.1,351.8 L1173.1,351.8Z" fill="#b6b6b6" stroke="#b6b6b6" stroke-width="1"/>
<path d="M1175.2,351.7 L1177.3,351.7 L1177.3,353.6 L1175.2,353.6Z" fill="#b6b6b6" stroke="#b6b6b6" stroke-width="1"/>
<path d="M1210.4,337.8 L1212.4,337.8 L1212.4,339.8 L1210.4,339.8Z" fill="#b6b6b6" stroke="#b6b6b6" stroke-width="1"/>
<path d="M1214.4,334 L1216.4,334 L1216.4,336 L1214.4,336Z" fill="#b6b6b6" stroke="#b6b6b6" stroke-width="1"/>
<path d="M1208.9,336.8 L1210.9,336.8 L1210.9,338.8 L1208.9,338.8Z" fill="#b6b6b6" stroke="#b6b6b6" stroke-width="1"/>
<path d="M842.6,345.5 L844.4,345.5 L844.4,347.2 L842.6,347.2Z" fill="#b6b6b6" stroke="#b6b6b6" stroke-width="1"/>
<path d="M836.2,348.3 L838,348.3 L838,350.1 L836.2,350.1Z" fill="#b6b6b6" stroke="#b6b6b6" stroke-width="1"/>
<path d="M798.9,318.6 L800.7,318.6 L800.7,320.4 L798.9,320.4Z" fill="#b6b6b6" stroke="#b6b6b6" stroke-width="1"/>
<path d="M802.3,320.2 L804.1,320.2 L804.1,322 L802.3,322Z" fill="#b6b6b6" stroke="#b6b6b6" stroke-width="1"/>
<path d="M949.8,243.8 L951.7,243.8 L951.7,245.6 L949.8,245.6Z" fill="#b6b6b6" stroke="#b6b6b6" stroke-width="1"/>
<path d="M950.1,246.4 L952,246.4 L952,248.1 L950.1,248.1Z" fill="#b6b6b6" stroke="#b6b6b6" stroke-width="1"/>
<path d="M950.8,240.1 L952.6,240.1 L952.6,241.8 L950.8,241.8Z" fill="#b6b6b6" stroke="#b6b6b6" stroke-width="1"/>
<path d="M953.2,259 L955,259 L955,260.8 L953.2,260.8Z" fill="#b6b6b6" stroke="#b6b6b6" stroke-width="1"/>
<path d="M483.2,444.9 L485.1,444.9 L485.1,446.7 L483.2,446.7Z" fill="#b6b6b6" stroke="#b6b6b6" stroke-width="1"/>
<path d="M553.5,453.1 L555.4,453.1 L555.4,454.9 L553.5,454.9Z" fill="#b6b6b6" stroke="#b6b6b6" stroke-width="1"/>
<path d="M880.5,437.3 L882.3,437.3 L882.3,439.1 L880.5,439.1Z" fill="#b6b6b6" stroke="#b6b6b6" stroke-width="1"/>
<path d="M877.4,436.7 L879.3,436.7 L879.3,438.4 L877.4,438.4Z" fill="#b6b6b6" stroke="#b6b6b6" stroke-width="1"/>
<path d="M345.4,33.7 L347.9,33.7 L347.9,36 L345.4,36Z" fill="#b6b6b6" stroke="#b6b6b6" stroke-width="1"/>
<path d="M366.8,34.3 L369.3,34.3 L369.3,36.7 L366.8,36.7Z" fill="#b6b6b6" stroke="#b6b6b6" stroke-width="1"/>
<path d="M330.2,35.2 L332.6,35.2 L332.6,37.6 L330.2,37.6Z" fill="#b6b6b6" stroke="#b6b6b6" stroke-width="1"/>
<path d="M299.6,40 L302.1,40 L302.1,42.3 L299.6,42.3Z" fill="#b6b6b6" stroke="#b6b6b6" stroke-width="1"/>
<path d="M359.2,64.3 L361.6,64.3 L361.6,66.7 L359.2,66.7Z" fill="#b6b6b6" stroke="#b6b6b6" stroke-width="1"/>
<path d="M368.4,63.7 L370.8,63.7 L370.8,66 L368.4,66Z" fill="#b6b6b6" stroke="#b6b6b6" stroke-width="1"/>
<path d="M421.8,84.2 L424.3,84.2 L424.3,86.5 L421.8,86.5Z" fill="#b6b6b6" stroke="#b6b6b6" stroke-width="1"/>
<path d="M423.4,103.7 L425.8,103.7 L425.8,106.1 L423.4,106.1Z" fill="#b6b6b6" stroke="#b6b6b6" stroke-width="1"/>
<path d="M478.4,131.8 L480.8,131.8 L480.8,134.2 L478.4,134.2Z" fill="#b6b6b6" stroke="#b6b6b6" stroke-width="1"/>
<path d="M472.9,135 L475.3,135 L475.3,137.3 L472.9,137.3Z" fill="#b6b6b6" stroke="#b6b6b6" stroke-width="1"/>
<path d="M262.9,113.2 L265.4,113.2 L265.4,115.6 L262.9,115.6Z" fill="#b6b6b6" stroke="#b6b6b6" stroke-width="1"/>
<path d="M261.4,115.7 L263.9,115.7 L263.9,118.1 L261.4,118.1Z" fill="#b6b6b6" stroke="#b6b6b6" stroke-width="1"/>
<path d="M259.9,105.3 L262.3,105.3 L262.3,107.7 L259.9,107.7Z" fill="#b6b6b6" stroke="#b6b6b6" stroke-width="1"/>
<path d="M253.8,100.6 L256.2,100.6 L256.2,102.9 L253.8,102.9Z" fill="#b6b6b6" stroke="#b6b6b6" stroke-width="1"/>
<path d="M291.7,42.1 L303.9,38.3 L314.6,39 L310,42.1 L299.3,43.4Z" fill="#f46d43" stroke="#b6b6b6" stroke-width="2.3" stroke-linejoin="round"/>
<path d="M319.2,38 L328.3,35.2 L334.4,35.8 L329.9,38.3Z" fill="#b6b6b6" stroke="#b6b6b6" stroke-width="1.5"/>
<path d="M346.7,36.4 L352.8,32.6 L365,33.6 L371.1,35.8 L361.9,37.7 L351.2,37.7Z" fill="#f46d43" stroke="#b6b6b6" stroke-width="2.6" stroke-linejoin="round"/>
<path d="M372.6,44 L380.3,44 L381.8,46.5 L374.2,46.5Z" fill="#b6b6b6" stroke="#b6b6b6" stroke-width="1.5"/>
<path d="M363.5,63.3 L371.1,62 L375.7,64.2 L372.6,66.4 L365,65.5Z" fill="#f46d43" stroke="#b6b6b6" stroke-width="2" stroke-linejoin="round"/>
<path d="M432.2,67.4 L438.3,67 L437.7,69.9 L432.2,69.9Z" fill="#b6b6b6" stroke="#b6b6b6" stroke-width="1.2"/>
<path d="M423.1,50 L432.2,50.3 L434.4,52.5 L426.1,52.8Z" fill="#f46d43" stroke="#b6b6b6" stroke-width="2" stroke-linejoin="round"/>
<path d="M410.8,74.9 L415.4,74.6 L414.8,76.8 L410.8,77.1Z" fill="#f46d43" stroke="#b6b6b6" stroke-width="1.5" stroke-linejoin="round"/>
<path d="M413.9,84.1 L418.5,84.1 L417.9,86.3 L413.9,86Z" fill="#b6b6b6" stroke="#b6b6b6" stroke-width="1.2"/>
<path d="M421.5,85.4 L425.2,85.7 L424.6,87.9 L422.1,87.6Z" fill="#b6b6b6" stroke="#b6b6b6" stroke-width="1.2"/>
<path d="M471.9,125.1 L478.7,126.7 L476.5,127.6 L471,126.1Z" fill="#b6b6b6" stroke="#b6b6b6" stroke-width="1"/>
<path d="M117.5,56.8 L124.5,57.3 L124,58.8 L117.5,58.8Z" fill="#fdae61" stroke="#b6b6b6" stroke-width="1" stroke-linejoin="round"/>
<path d="M142,82.2 L147,81.8 L151.5,83 L151,84.4 L145,84.2Z" fill="#b6b6b6" stroke="#b6b6b6" stroke-width="0.8"/>
<path d="M155.5,92 L161,91.6 L161.3,93.6 L156,94Z" fill="#b6b6b6" stroke="#b6b6b6" stroke-width="0.8"/>
<path d="M1218,64.6 L1228,68 L1240,71.5 M1218,75 L1228,77.5 L1240,80.3" fill="none" stroke="#b6b6b6" stroke-width="1.2"/>
<rect x="94.5" y="10.5" width="1146" height="457" fill="none" stroke="#111" stroke-width="1.1"/>
<text x="31" y="100.8" class="ax" text-anchor="start">60° N</text>
<text x="31" y="194.2" class="ax" text-anchor="start">30° N</text>
<text x="50.5" y="288.8" class="ax" text-anchor="start">0°</text>
<text x="31" y="383.6" class="ax" text-anchor="start">30° S</text>
<text x="264.5" y="493.2" class="ax" text-anchor="start">120° W</text>
<text x="458.3" y="492.6" class="ax" text-anchor="start">60° W</text>
<text x="661.5" y="495" class="ax" text-anchor="start">0°</text>
<text x="830.3" y="492.6" class="ax" text-anchor="start">60° E</text>
<text x="1005.7" y="493.2" class="ax" text-anchor="start">120° E</text>
<text x="109.3" y="233.8" class="ttl" text-anchor="start">Actinomorphy (%)</text>
<rect x="113" y="248" width="25" height="25.3" fill="#4575b4"/>
<text transform="translate(143.6,267.5) scale(1.085,1)" class="lg">3 - 54</text>
<rect x="113" y="273" width="25" height="25.3" fill="#74add1"/>
<text transform="translate(143.6,292.8) scale(1.085,1)" class="lg">54 - 57</text>
<rect x="113" y="298" width="25" height="25.3" fill="#abd9e9"/>
<text transform="translate(143.6,318.1) scale(1.085,1)" class="lg">57 - 59</text>
<rect x="113" y="323" width="25" height="26.3" fill="#e0f3f8"/>
<text transform="translate(143.6,343.4) scale(1.085,1)" class="lg">59 - 61</text>
<rect x="113" y="349" width="25" height="25.3" fill="#ffffbf"/>
<text transform="translate(143.6,368.4) scale(1.085,1)" class="lg">61 - 63</text>
<rect x="113" y="374" width="25" height="25.3" fill="#fee090"/>
<text transform="translate(143.6,393.4) scale(1.085,1)" class="lg">63 - 65</text>
<rect x="113" y="399" width="25" height="25.3" fill="#fdae61"/>
<text transform="translate(143.6,418.7) scale(1.085,1)" class="lg">65 - 70</text>
<rect x="113" y="424" width="25" height="25.6" fill="#f46d43"/>
<text transform="translate(143.6,444) scale(1.085,1)" class="lg">70 - 100</text>
</svg></body></html>
